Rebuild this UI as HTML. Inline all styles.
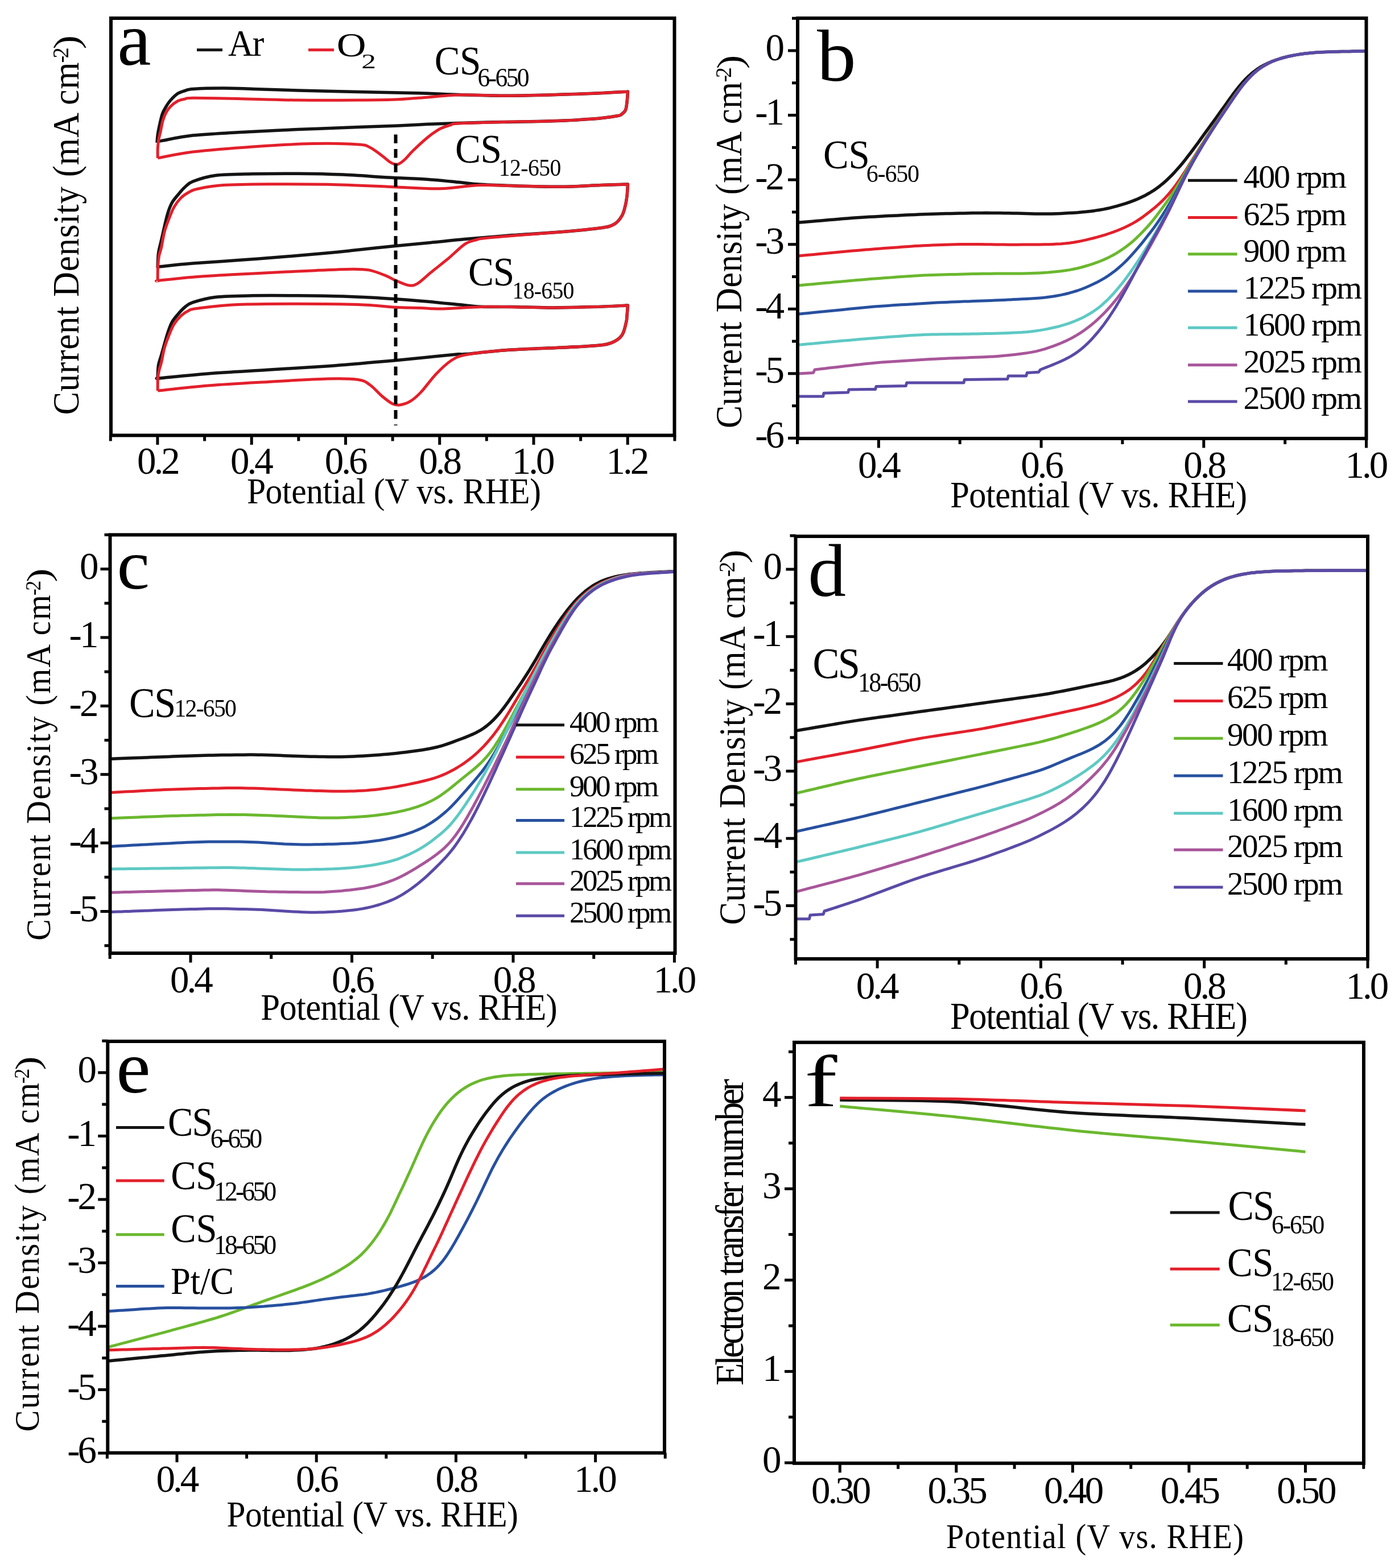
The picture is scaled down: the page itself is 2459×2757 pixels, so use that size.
<!DOCTYPE html>
<html><head><meta charset="utf-8"><title>ORR figure</title>
<style>html,body{margin:0;padding:0;background:#fff;}svg{display:block;}</style>
</head><body>
<svg xmlns="http://www.w3.org/2000/svg" width="2459" height="2757" viewBox="0 0 2459 2757" font-family="'Liberation Serif','Times New Roman',serif" fill="#000">
<path d="M276 251C276.2 248.3 276.6 240.7 277.5 235C278.4 229.3 279.8 222.8 281.1 217C282.4 211.2 283.8 204.8 285.5 200C287.2 195.2 289.2 192 291.6 188C294 184 296.5 179.9 300 176C303.5 172.1 308.5 167.1 312.7 164.3C316.9 161.6 320.6 160.8 325 159.5C329.4 158.2 328 157.2 339.1 156.4C350.2 155.7 374.3 155 391.9 155C409.5 155 422.6 155.7 444.6 156.4C466.6 157.1 492.9 158.1 523.7 159C554.5 159.9 599.8 160.9 629.2 161.6C658.6 162.3 679.4 162.6 700 163C720.6 163.4 735.1 163.7 752.7 164.3C770.3 164.9 783.5 165.9 805.5 166.6C827.5 167.2 858.2 168.1 884.6 168.2C911 168.2 937.3 167.6 963.7 166.9C990.1 166.2 1020.8 165.2 1042.8 164.3C1064.8 163.4 1085.5 162.2 1095.6 161.6C1105.7 161 1102.2 161.1 1103.5 161C1103.2 164.2 1102.7 174.6 1102 180C1101.3 185.4 1101 189.9 1099.5 193.3C1098 196.7 1095.4 198.8 1093 200.5C1090.6 202.2 1093.4 202.4 1085 203.8C1076.6 205.2 1063 207.6 1042.8 209.1C1022.6 210.6 990.1 212.1 963.7 213C937.3 213.9 911 213.8 884.6 214.4C858.2 215 827.5 215.8 805.5 216.5C783.5 217.2 770.3 217.6 752.7 218.3C735.1 219.1 720.6 220.1 700 221C679.4 221.9 658.6 222.5 629.2 223.6C599.8 224.7 558.9 226.1 523.7 227.6C488.5 229.1 449 231.1 418.2 232.8C387.4 234.6 361.3 235.7 339.1 238.1C316.9 240.5 295.5 245.5 285 247.4C274.5 249.3 277.5 249.2 276 249.5" fill="none" stroke="#141414" stroke-width="5.5" stroke-linejoin="round" stroke-linecap="butt"/>
<path d="M277.3 278C277.3 275.3 276.9 267.5 277.2 262C277.5 256.5 278.1 250.3 279 245C279.9 239.7 281.2 235.5 282.4 230.2C283.6 224.9 284.5 218.3 286 213C287.5 207.7 289.3 202.9 291.6 198.6C293.9 194.3 296.5 190.5 300 187C303.5 183.5 308.5 179.7 312.7 177.5C316.9 175.3 320.6 174.9 325 174C329.4 173.1 323.6 172.3 339.1 172.2C354.6 172.1 387.4 172.8 418.2 173.5C449 174.2 488.5 175.7 523.7 176.1C558.9 176.5 599.8 176.3 629.2 176.1C658.6 175.9 679.4 175.7 700 174.8C720.6 173.9 735.1 172.2 752.7 170.9C770.3 169.6 783.5 167.4 805.5 166.9C827.5 166.4 858.2 168.2 884.6 168.2C911 168.2 937.3 167.6 963.7 166.9C990.1 166.2 1020.8 165.2 1042.8 164.3C1064.8 163.4 1085.5 162.2 1095.6 161.6C1105.7 161 1102.2 161.1 1103.5 161C1103.2 164.2 1102.7 174.6 1102 180C1101.3 185.4 1101 189.9 1099.5 193.3C1098 196.7 1095.4 198.8 1093 200.5C1090.6 202.2 1093.4 202.4 1085 203.8C1076.6 205.2 1063 207.6 1042.8 209.1C1022.6 210.6 990.1 212.1 963.7 213C937.3 213.9 911 213.7 884.6 214.4C858.2 215.1 820.9 216.1 805.5 217C790.1 217.9 797.6 218.1 792.3 219.7C787 221.2 780.4 222.8 773.8 226.3C767.2 229.8 760.6 234.4 752.7 240.8C744.8 247.2 733.2 258 726.4 264.5C719.6 271 716.3 276 712 280C707.7 284 703.7 287.1 700.5 288.5C697.3 289.9 695.8 289.2 693 288.5C690.2 287.8 687.6 286.5 684 284C680.4 281.5 677 277.8 671.4 273.7C665.8 269.6 657.3 262.5 650.3 259.2C643.3 255.9 645.9 255 629.2 253.9C612.5 252.8 580.8 251.9 550 252.6C519.2 253.3 479.8 255.5 444.6 257.9C409.5 260.3 367 263.8 339.1 267.1C311.2 270.5 287.6 276.2 277.3 278" fill="none" stroke="#e3202b" stroke-width="5" stroke-linejoin="round" stroke-linecap="butt"/>
<path d="M277.1 471C277.3 466.7 277.4 453.2 278.5 445C279.6 436.8 281.1 433.2 283.7 421.9C286.3 410.6 291.2 387.8 294.3 377C297.4 366.2 298.9 362.7 302 357C305.1 351.3 308.9 347.4 312.7 342.7C316.5 338 320.6 332.9 325 329C329.4 325.1 330.2 322.4 339.1 319C348.1 315.6 361.1 310.7 378.7 308.5C396.3 306.3 420.4 306.3 444.6 305.8C468.8 305.3 497.3 305.1 523.7 305.3C550.1 305.5 576.4 306 602.8 307.1C629.2 308.2 657 310.6 682 312C707 313.4 732.1 314.1 752.7 315.5C773.3 316.9 790.1 318.8 805.5 320.3C820.9 321.8 827.4 323.2 845 324.3C862.6 325.4 886.8 326.2 911 326.9C935.2 327.5 965.8 328.4 990 328.2C1014.2 328 1037.1 326.3 1056 325.6C1074.9 324.9 1095.6 324.3 1103.5 324C1103.2 327.5 1102.8 338.7 1102 345C1101.2 351.3 1100.5 356.2 1099 362C1097.5 367.8 1096.2 374.3 1093 379.7C1089.8 385.1 1085.9 390.7 1079.7 394.2C1073.5 397.7 1071 398.6 1056 400.8C1041 403 1016 405.3 990 407.4C964 409.5 928.9 411.4 900 413.6C871.1 415.8 840.6 418.4 816.9 420.5C793.2 422.6 778 424.5 757.6 426.5C737.2 428.5 717.2 430.1 694.3 432.4C671.4 434.7 639.6 438.2 620 440.3C600.4 442.4 597 442.8 576.5 444.7C556 446.6 523.7 449.5 497.3 451.6C470.9 453.8 444.6 455.7 418.2 457.6C391.8 459.5 361.5 461.3 339.1 463.1C316.7 464.9 294 467.4 283.7 468.5C273.4 469.6 278.2 469.8 277.1 470" fill="none" stroke="#141414" stroke-width="5.5" stroke-linejoin="round" stroke-linecap="butt"/>
<path d="M277.2 494C277.2 490 277.1 477.3 277.5 470C277.9 462.7 278.5 455.8 279.5 450C280.5 444.2 282.1 442 283.7 435C285.3 428 286.8 416.3 289 408C291.2 399.7 294.1 392.3 296.9 385C299.7 377.7 302.5 370.2 306 364C309.5 357.8 313.7 352.3 318 348C322.3 343.7 327.2 340.6 332 338C336.8 335.4 337 334.3 347 332.2C357 330.1 371.2 327 391.9 325.6C412.6 324.2 440.2 324 471 323.8C501.8 323.6 541.3 323.6 576.5 324.3C611.7 325 654.8 327.1 682 328.2C709.2 329.3 723.8 330.3 740 330.9C756.2 331.4 761.5 332.4 779 331.5C796.5 330.6 823 326.4 845 325.6C867 324.8 886.8 326.5 911 326.9C935.2 327.3 965.8 328.4 990 328.2C1014.2 328 1037.1 326.3 1056 325.6C1074.9 324.9 1095.6 324.3 1103.5 324C1103.2 327.5 1102.8 338.7 1102 345C1101.2 351.3 1100.5 356.2 1099 362C1097.5 367.8 1096.2 374.3 1093 379.7C1089.8 385.1 1085.9 390.7 1079.7 394.2C1073.5 397.7 1071 398.6 1056 400.8C1041 403 1016 405.1 990 407.4C964 409.7 923.3 412.5 900 414.4C876.7 416.3 860.5 417.8 850 419C839.5 420.2 842.2 420.1 836.7 421.8C831.2 423.5 825.1 423.8 816.9 429.4C808.6 435 797.1 446.9 787.2 455.2C777.3 463.4 766.5 471.6 757.6 478.9C748.7 486.1 740.4 494.9 733.8 498.7C727.2 502.5 724.6 502.6 718 501.6C711.4 500.6 700.9 495.5 694.3 492.7C687.7 489.9 686 487.8 678.4 484.8C670.8 481.8 658.7 476.8 648.8 474.9C638.9 473 634.5 473.1 619.1 473.2C603.8 473.3 577 474.5 556.7 475.4C536.4 476.2 520.4 477.1 497.3 478.3C474.2 479.5 444.6 480.8 418.2 482.3C391.8 483.8 362.2 485.4 339.1 487.2C316 489 290.1 492.1 279.8 493.2C269.5 494.3 277.6 493.9 277.2 494" fill="none" stroke="#e3202b" stroke-width="5" stroke-linejoin="round" stroke-linecap="butt"/>
<path d="M277.1 665C277.3 661.2 277.4 648.8 278.5 642C279.6 635.2 281.1 633.2 283.7 624C286.3 614.8 291.2 596.5 294.3 587C297.4 577.5 298.9 572.7 302 567C305.1 561.3 308.9 557.2 312.7 552.7C316.5 548.2 320.6 543.5 325 540C329.4 536.5 330.2 534.5 339.1 531.6C348.1 528.7 361.1 524.4 378.7 522.4C396.3 520.4 420.4 520.2 444.6 519.8C468.8 519.4 497.3 519.6 523.7 519.8C550.1 520 576.4 520.2 602.8 521.1C629.2 522 657 523.5 682 525C707 526.5 732.1 528.5 752.7 530.3C773.3 532.1 790.1 534.1 805.5 535.6C820.9 537.1 829.2 538.6 845 539.3C860.8 539.9 880.2 539.2 900 539.5C919.8 539.8 939.9 540.9 963.7 540.9C987.5 540.9 1019.5 540.2 1042.8 539.6C1066.1 539 1093.4 537.4 1103.5 537C1103.2 540 1102.5 550.2 1102 555C1101.5 559.8 1102.3 560.1 1100.8 565.9C1099.3 571.7 1097.4 583.6 1093 589.7C1088.6 595.9 1082.9 599.7 1074.5 602.8C1066.1 605.9 1061.3 606.5 1042.8 608.1C1024.3 609.7 990.1 610.8 963.7 612.1C937.3 613.4 908.8 614.2 884.6 616C860.4 617.8 831.9 621.5 818.7 622.6C805.5 623.7 816.5 621.9 805.5 622.8C794.5 623.7 770.3 626.2 752.7 627.9C735.1 629.6 716.2 631.7 700 633.2C683.8 634.7 676.2 635.4 655.6 637.1C635 638.9 607.3 641.5 576.5 643.7C545.7 645.9 506.2 648.1 471 650.3C435.8 652.5 396.7 654.5 365.5 656.9C334.3 659.3 298.4 663.4 283.7 664.8C269 666.1 278.2 665 277.1 665" fill="none" stroke="#141414" stroke-width="5.5" stroke-linejoin="round" stroke-linecap="butt"/>
<path d="M277.2 687C277.2 683.3 277.1 670.8 277.5 665C277.9 659.2 278.5 656.6 279.5 652C280.5 647.4 282.1 643.8 283.7 637.1C285.3 630.4 286.8 619.9 289 612C291.2 604.1 294.1 596.7 296.9 589.7C299.7 582.7 302.5 575.7 306 570C309.5 564.3 313.7 559.4 318 555.4C322.3 551.4 327.2 548.2 332 546C336.8 543.8 332.6 543.9 347 542.2C361.4 540.5 388.8 536.9 418.2 535.6C447.6 534.3 488.5 534.3 523.7 534.3C558.9 534.3 599.8 534.6 629.2 535.6C658.6 536.6 681.5 539.5 700 540.5C718.5 541.5 726.8 541.1 740 541.5C753.2 541.9 759.3 543.4 779 543C798.7 542.6 827.4 539.6 858.2 539.3C889 538.9 932.9 540.8 963.7 540.9C994.5 541 1019.5 540.2 1042.8 539.6C1066.1 539 1093.4 537.4 1103.5 537C1103.2 540 1102.5 550.2 1102 555C1101.5 559.8 1102.3 560.1 1100.8 565.9C1099.3 571.7 1097.4 583.6 1093 589.7C1088.6 595.9 1082.9 599.7 1074.5 602.8C1066.1 605.9 1061.3 606.5 1042.8 608.1C1024.3 609.7 990.1 610.8 963.7 612.1C937.3 613.4 908.8 614 884.6 616C860.4 618 834.1 620.8 818.7 623.9C803.3 627 801.1 628.8 792.3 634.5C783.5 640.2 774.8 649 766 658.2C757.2 667.4 747.1 682 739.6 689.9C732.1 697.8 727.1 702 721 705.7C714.9 709.4 708.2 711.3 703 712C697.8 712.7 695.3 712.6 690 710C684.7 707.4 678 702 671.4 696.5C664.8 691 657.3 681.5 650.3 676.7C643.3 671.9 641.5 669.3 629.2 667.5C616.9 665.7 602.9 665.5 576.5 666.1C550.1 666.8 506.2 669.4 471 671.4C435.8 673.4 397.8 675.4 365.5 678C333.2 680.6 291.9 685.5 277.2 687" fill="none" stroke="#e3202b" stroke-width="5" stroke-linejoin="round" stroke-linecap="butt"/>
<line x1="695.5" y1="236.5" x2="695.5" y2="748" stroke="#000" stroke-width="6" stroke-dasharray="15.5 10"/>
<rect x="195" y="32" width="990.5" height="733.5" fill="none" stroke="#000" stroke-width="6"/>
<line x1="194.3" y1="765.5" x2="194.3" y2="775.5" stroke="#000" stroke-width="5" stroke-linecap="butt"/>
<line x1="276.9" y1="765.5" x2="276.9" y2="782" stroke="#000" stroke-width="5" stroke-linecap="butt"/>
<line x1="359.6" y1="765.5" x2="359.6" y2="775.5" stroke="#000" stroke-width="5" stroke-linecap="butt"/>
<line x1="442.2" y1="765.5" x2="442.2" y2="782" stroke="#000" stroke-width="5" stroke-linecap="butt"/>
<line x1="524.8" y1="765.5" x2="524.8" y2="775.5" stroke="#000" stroke-width="5" stroke-linecap="butt"/>
<line x1="607.5" y1="765.5" x2="607.5" y2="782" stroke="#000" stroke-width="5" stroke-linecap="butt"/>
<line x1="690.1" y1="765.5" x2="690.1" y2="775.5" stroke="#000" stroke-width="5" stroke-linecap="butt"/>
<line x1="772.7" y1="765.5" x2="772.7" y2="782" stroke="#000" stroke-width="5" stroke-linecap="butt"/>
<line x1="855.3" y1="765.5" x2="855.3" y2="775.5" stroke="#000" stroke-width="5" stroke-linecap="butt"/>
<line x1="938" y1="765.5" x2="938" y2="782" stroke="#000" stroke-width="5" stroke-linecap="butt"/>
<line x1="1020.6" y1="765.5" x2="1020.6" y2="775.5" stroke="#000" stroke-width="5" stroke-linecap="butt"/>
<line x1="1103.2" y1="765.5" x2="1103.2" y2="782" stroke="#000" stroke-width="5" stroke-linecap="butt"/>
<line x1="1185.9" y1="765.5" x2="1185.9" y2="775.5" stroke="#000" stroke-width="5" stroke-linecap="butt"/>
<text x="241" y="833.3" font-size="67" letter-spacing="-4.00">0.2</text>
<text x="405" y="833.3" font-size="67" letter-spacing="-4.00">0.4</text>
<text x="570.7" y="833.3" font-size="67" letter-spacing="-4.00">0.6</text>
<text x="736.2" y="833.3" font-size="67" letter-spacing="-4.00">0.8</text>
<text x="899.8" y="833.3" font-size="67" letter-spacing="-4.00">1.0</text>
<text x="1065.6" y="833.3" font-size="67" letter-spacing="-4.00">1.2</text>
<line x1="346" y1="87.8" x2="391" y2="87.8" stroke="#141414" stroke-width="5" stroke-linecap="butt"/>
<text transform="translate(400.9 97.9) scale(0.930 1)" font-size="66.5" letter-spacing="-1.81">Ar</text>
<line x1="542" y1="87.8" x2="587" y2="87.8" stroke="#e3202b" stroke-width="5" stroke-linecap="butt"/>
<text transform="translate(591.8 99.2) scale(1.226 1)" font-size="58.5" letter-spacing="0.00">O</text>
<text transform="translate(635.3 120.3) scale(1.400 1)" font-size="36.7" letter-spacing="0.00">2</text>
<text transform="translate(763.8 130.9) scale(0.930 1)" font-size="72.3" letter-spacing="-0.68">CS</text>
<text transform="translate(839.4 151.5) scale(0.930 1)" font-size="47" letter-spacing="-2.86">6-650</text>
<text transform="translate(799.9 286.1) scale(0.930 1)" font-size="72.5" letter-spacing="-0.52">CS</text>
<text transform="translate(876.7 309.4) scale(0.930 1)" font-size="42.7" letter-spacing="-0.58">12-650</text>
<text transform="translate(823 502) scale(0.930 1)" font-size="72.5" letter-spacing="-1.38">CS</text>
<text transform="translate(900.5 525.4) scale(0.930 1)" font-size="42.8" letter-spacing="-0.81">18-650</text>
<text transform="translate(206.3 114.1) scale(1.006 1)" font-size="132.6" letter-spacing="0.00">a</text>
<text transform="translate(433.9 885.4) scale(0.930 1)" font-size="63.9" letter-spacing="-0.35">Potential (V vs. RHE)</text>
<text transform="translate(138.4 86.4) rotate(-90) scale(1.156 1)" font-size="63.9" letter-spacing="0.00">)</text>
<text transform="translate(119.7 110.4) rotate(-90) scale(0.930 1)" font-size="41.1" letter-spacing="-5.28">-2</text>
<text transform="translate(137.9 729.5) rotate(-90) scale(0.930 1)" font-size="65.4" letter-spacing="0.87">Current Density (mA cm</text>
<path d="M1403.0 391.3 L1415.5 390.2 L1421.2 389.8 L1427.9 389.2 L1435.2 388.6 L1442.8 387.9 L1450.6 387.3 L1458.5 386.6 L1466.4 385.9 L1474.3 385.2 L1482.3 384.6 L1490.2 383.9 L1498.1 383.3 L1506.0 382.8 L1513.9 382.2 L1521.7 381.7 L1529.6 381.3 L1537.4 380.9 L1545.3 380.4 L1553.1 380.0 L1561.0 379.6 L1568.8 379.3 L1576.7 378.9 L1584.5 378.5 L1592.4 378.1 L1600.2 377.7 L1608.0 377.4 L1615.9 377.0 L1623.7 376.8 L1631.6 376.5 L1639.4 376.3 L1647.3 376.0 L1655.1 375.8 L1663.0 375.6 L1670.8 375.4 L1678.7 375.3 L1686.5 375.1 L1694.4 374.9 L1702.2 374.7 L1710.1 374.6 L1717.9 374.4 L1725.8 374.4 L1733.6 374.3 L1741.5 374.4 L1749.3 374.4 L1757.1 374.5 L1765.0 374.7 L1772.8 374.8 L1780.6 374.9 L1788.4 375.1 L1796.2 375.3 L1803.9 375.5 L1811.5 375.7 L1819.1 375.9 L1826.6 376.1 L1834.0 376.1 L1841.4 376.1 L1848.9 375.9 L1856.3 375.7 L1863.7 375.4 L1871.1 375.0 L1878.6 374.6 L1886.1 374.2 L1893.6 373.7 L1901.2 373.0 L1908.9 372.3 L1916.7 371.4 L1924.4 370.4 L1932.2 369.2 L1940.0 367.9 L1947.7 366.3 L1955.4 364.4 L1963.1 362.4 L1970.7 360.2 L1978.2 357.9 L1985.6 355.3 L1992.9 352.6 L2000.0 349.7 L2006.9 346.5 L2013.7 343.2 L2020.2 339.5 L2026.5 335.7 L2032.5 331.6 L2038.4 327.2 L2044.0 322.7 L2049.4 317.9 L2054.6 313.0 L2059.7 308.0 L2064.6 302.8 L2069.3 297.5 L2074.0 292.2 L2078.6 286.7 L2083.1 281.1 L2087.6 275.3 L2092.1 269.5 L2096.6 263.5 L2101.1 257.4 L2105.6 251.3 L2110.0 245.1 L2114.5 238.9 L2119.0 232.6 L2123.6 226.3 L2128.1 220.1 L2132.7 213.8 L2137.3 207.5 L2141.9 201.1 L2146.5 194.7 L2151.1 188.4 L2155.6 182.0 L2160.1 175.6 L2164.7 169.4 L2169.2 163.2 L2173.8 157.2 L2178.4 151.4 L2183.2 145.7 L2188.2 140.3 L2193.4 135.1 L2198.8 130.2 L2204.4 125.6 L2210.3 121.3 L2216.4 117.4 L2222.8 113.9 L2229.3 110.7 L2236.1 107.8 L2243.0 105.3 L2250.1 103.0 L2257.2 101.0 L2264.3 99.2 L2271.4 97.7 L2278.6 96.4 L2285.7 95.3 L2292.9 94.3 L2300.0 93.5 L2307.1 92.8 L2314.3 92.3 L2321.5 91.8 L2328.6 91.5 L2335.9 91.2 L2343.2 91.0 L2350.5 90.8 L2357.9 90.6 L2365.3 90.5 L2372.5 90.4 L2379.2 90.3 L2385.3 90.2 L2390.3 90.1 L2400.0 90.0" fill="none" stroke="#141414" stroke-width="5.5" stroke-linejoin="round"/>
<path d="M1403.0 450.0 L1415.5 448.8 L1421.2 448.3 L1427.9 447.7 L1435.2 447.0 L1442.8 446.2 L1450.6 445.5 L1458.5 444.8 L1466.4 444.0 L1474.3 443.3 L1482.3 442.5 L1490.2 441.8 L1498.1 441.1 L1506.0 440.4 L1513.9 439.7 L1521.7 439.1 L1529.6 438.4 L1537.4 437.8 L1545.3 437.2 L1553.1 436.6 L1561.0 436.0 L1568.8 435.5 L1576.7 434.9 L1584.5 434.3 L1592.4 433.7 L1600.2 433.2 L1608.0 432.6 L1615.9 432.2 L1623.7 431.7 L1631.6 431.4 L1639.4 431.0 L1647.3 430.7 L1655.1 430.5 L1663.0 430.2 L1670.8 430.0 L1678.7 429.7 L1686.5 429.6 L1694.3 429.4 L1702.2 429.4 L1710.0 429.4 L1717.9 429.4 L1725.7 429.6 L1733.5 429.7 L1741.4 429.8 L1749.2 430.0 L1757.0 430.1 L1764.9 430.1 L1772.7 430.2 L1780.6 430.2 L1788.5 430.2 L1796.3 430.1 L1804.2 430.1 L1812.0 430.1 L1819.8 430.0 L1827.6 429.9 L1835.3 429.8 L1842.9 429.7 L1850.4 429.4 L1857.8 429.1 L1865.1 428.7 L1872.4 428.1 L1879.6 427.3 L1886.7 426.2 L1893.8 425.0 L1900.8 423.6 L1907.8 422.1 L1914.8 420.4 L1921.8 418.7 L1928.7 416.9 L1935.7 414.9 L1942.7 412.8 L1949.6 410.5 L1956.6 408.1 L1963.5 405.5 L1970.3 402.7 L1977.1 399.7 L1983.8 396.5 L1990.3 393.1 L1996.8 389.4 L2003.0 385.3 L2009.2 381.1 L2015.2 376.6 L2021.1 372.0 L2027.0 367.3 L2032.7 362.5 L2038.2 357.6 L2043.5 352.6 L2048.5 347.4 L2053.4 342.0 L2058.0 336.4 L2062.6 330.7 L2067.0 324.9 L2071.2 318.9 L2075.4 312.9 L2079.3 307.0 L2083.2 301.0 L2087.0 295.0 L2090.8 288.9 L2094.7 282.6 L2098.6 276.3 L2102.7 269.8 L2106.7 263.3 L2110.9 256.7 L2115.1 250.1 L2119.2 243.6 L2123.4 237.2 L2127.5 230.9 L2131.5 224.8 L2135.5 218.9 L2139.5 213.0 L2143.4 207.2 L2147.3 201.4 L2151.2 195.7 L2155.1 190.0 L2159.0 184.3 L2162.9 178.6 L2166.8 172.9 L2170.8 167.2 L2174.9 161.5 L2179.2 155.8 L2183.7 150.2 L2188.4 144.6 L2193.3 139.2 L2198.6 133.9 L2204.1 128.7 L2210.0 123.8 L2216.1 119.3 L2222.5 115.2 L2229.2 111.5 L2236.0 108.3 L2243.0 105.5 L2250.0 103.1 L2257.2 101.0 L2264.3 99.3 L2271.4 97.7 L2278.6 96.4 L2285.7 95.3 L2292.9 94.3 L2300.0 93.5 L2307.1 92.8 L2314.3 92.3 L2321.5 91.8 L2328.6 91.5 L2335.9 91.2 L2343.2 91.0 L2350.5 90.8 L2357.9 90.6 L2365.3 90.5 L2372.5 90.4 L2379.2 90.3 L2385.3 90.2 L2390.3 90.1 L2400.0 90.0" fill="none" stroke="#e3202b" stroke-width="5" stroke-linejoin="round"/>
<path d="M1403.0 502.0 L1415.5 500.8 L1421.2 500.3 L1427.9 499.7 L1435.2 499.0 L1442.8 498.3 L1450.6 497.6 L1458.5 496.9 L1466.4 496.1 L1474.3 495.4 L1482.3 494.7 L1490.2 494.0 L1498.1 493.3 L1506.0 492.6 L1513.9 491.9 L1521.7 491.3 L1529.6 490.6 L1537.4 490.0 L1545.3 489.4 L1553.1 488.8 L1561.0 488.2 L1568.8 487.7 L1576.7 487.1 L1584.5 486.5 L1592.4 485.9 L1600.2 485.4 L1608.0 484.9 L1615.9 484.4 L1623.7 484.0 L1631.6 483.7 L1639.4 483.4 L1647.3 483.2 L1655.1 482.9 L1663.0 482.7 L1670.8 482.5 L1678.7 482.4 L1686.5 482.2 L1694.4 482.0 L1702.2 481.8 L1710.1 481.6 L1717.9 481.5 L1725.8 481.3 L1733.6 481.2 L1741.5 481.2 L1749.3 481.1 L1757.1 481.1 L1765.0 481.1 L1772.8 481.1 L1780.6 481.1 L1788.5 481.0 L1796.3 480.9 L1804.0 480.8 L1811.8 480.6 L1819.5 480.3 L1827.1 479.9 L1834.7 479.4 L1842.3 478.9 L1849.9 478.2 L1857.4 477.5 L1864.8 476.7 L1872.2 475.7 L1879.5 474.6 L1886.6 473.2 L1893.8 471.7 L1900.8 470.0 L1907.8 468.0 L1914.8 465.9 L1921.7 463.7 L1928.7 461.2 L1935.5 458.5 L1942.4 455.6 L1949.1 452.4 L1955.7 449.0 L1962.1 445.3 L1968.4 441.4 L1974.5 437.3 L1980.4 433.0 L1986.1 428.5 L1991.7 423.8 L1997.1 418.9 L2002.4 413.8 L2007.6 408.5 L2012.8 403.1 L2017.9 397.5 L2022.8 391.8 L2027.6 386.0 L2032.3 380.0 L2036.8 374.0 L2041.3 368.0 L2045.8 361.9 L2050.3 355.7 L2054.7 349.4 L2059.1 343.0 L2063.5 336.5 L2067.6 329.9 L2071.7 323.3 L2075.7 316.7 L2079.6 310.0 L2083.5 303.3 L2087.4 296.7 L2091.3 290.0 L2095.3 283.3 L2099.3 276.7 L2103.3 270.0 L2107.4 263.4 L2111.5 256.7 L2115.7 250.1 L2119.8 243.6 L2123.9 237.2 L2128.0 230.9 L2132.0 224.8 L2136.0 218.9 L2139.9 213.0 L2143.8 207.2 L2147.7 201.4 L2151.6 195.7 L2155.4 190.0 L2159.3 184.3 L2163.2 178.6 L2167.1 172.9 L2171.1 167.2 L2175.2 161.5 L2179.5 155.8 L2183.9 150.2 L2188.5 144.6 L2193.5 139.2 L2198.7 133.9 L2204.2 128.7 L2210.0 123.8 L2216.1 119.3 L2222.5 115.2 L2229.2 111.5 L2236.0 108.3 L2243.0 105.5 L2250.0 103.1 L2257.2 101.0 L2264.3 99.3 L2271.4 97.7 L2278.6 96.4 L2285.7 95.3 L2292.9 94.3 L2300.0 93.5 L2307.1 92.8 L2314.3 92.3 L2321.5 91.8 L2328.6 91.5 L2335.9 91.2 L2343.2 91.0 L2350.5 90.8 L2357.9 90.6 L2365.3 90.5 L2372.5 90.4 L2379.2 90.3 L2385.3 90.2 L2390.3 90.1 L2400.0 90.0" fill="none" stroke="#6ab82e" stroke-width="5" stroke-linejoin="round"/>
<path d="M1403.0 552.3 L1415.4 551.1 L1421.2 550.5 L1427.8 549.8 L1435.1 549.1 L1442.7 548.3 L1450.5 547.5 L1458.4 546.7 L1466.3 545.9 L1474.2 545.2 L1482.1 544.4 L1490.0 543.6 L1497.9 542.8 L1505.8 542.0 L1513.7 541.2 L1521.6 540.5 L1529.5 539.8 L1537.3 539.1 L1545.2 538.5 L1553.1 537.9 L1560.9 537.4 L1568.8 536.8 L1576.6 536.3 L1584.5 535.8 L1592.3 535.4 L1600.2 534.9 L1608.0 534.4 L1615.9 533.9 L1623.7 533.4 L1631.6 532.9 L1639.4 532.5 L1647.3 532.1 L1655.1 531.7 L1663.0 531.4 L1670.8 531.0 L1678.6 530.7 L1686.5 530.4 L1694.3 530.1 L1702.2 529.9 L1710.0 529.6 L1717.8 529.3 L1725.7 529.0 L1733.5 528.7 L1741.3 528.4 L1749.2 528.0 L1757.0 527.7 L1764.9 527.4 L1772.7 527.0 L1780.6 526.6 L1788.5 526.2 L1796.3 525.8 L1804.2 525.4 L1812.0 525.0 L1819.8 524.5 L1827.6 523.9 L1835.3 523.2 L1842.9 522.3 L1850.4 521.3 L1857.8 520.0 L1865.1 518.6 L1872.4 517.0 L1879.6 515.2 L1886.7 513.2 L1893.8 511.0 L1900.8 508.5 L1907.8 505.7 L1914.7 502.8 L1921.6 499.6 L1928.4 496.2 L1935.1 492.6 L1941.6 488.8 L1947.9 484.8 L1953.9 480.6 L1959.8 476.2 L1965.5 471.5 L1971.0 466.7 L1976.3 461.7 L1981.5 456.6 L1986.5 451.3 L1991.4 445.9 L1996.2 440.4 L2000.9 434.9 L2005.6 429.3 L2010.2 423.6 L2014.8 417.8 L2019.4 411.9 L2024.0 405.9 L2028.5 399.9 L2033.0 393.7 L2037.3 387.4 L2041.5 381.0 L2045.6 374.6 L2049.6 368.2 L2053.4 361.8 L2057.2 355.5 L2060.9 349.2 L2064.5 342.8 L2068.0 336.4 L2071.5 329.9 L2075.0 323.3 L2078.5 316.6 L2082.0 310.0 L2085.6 303.3 L2089.3 296.7 L2093.0 290.0 L2096.8 283.3 L2100.7 276.7 L2104.6 270.0 L2108.6 263.4 L2112.6 256.7 L2116.7 250.1 L2120.7 243.6 L2124.8 237.2 L2128.8 230.9 L2132.8 224.8 L2136.7 218.9 L2140.6 213.0 L2144.5 207.2 L2148.3 201.4 L2152.2 195.7 L2156.0 190.0 L2159.9 184.3 L2163.8 178.6 L2167.7 172.9 L2171.6 167.2 L2175.7 161.5 L2179.9 155.8 L2184.2 150.2 L2188.8 144.6 L2193.7 139.2 L2198.8 133.9 L2204.3 128.7 L2210.1 123.8 L2216.2 119.3 L2222.6 115.2 L2229.2 111.5 L2236.0 108.3 L2243.0 105.5 L2250.0 103.1 L2257.2 101.0 L2264.3 99.3 L2271.4 97.7 L2278.6 96.4 L2285.7 95.3 L2292.9 94.3 L2300.0 93.5 L2307.1 92.8 L2314.3 92.3 L2321.5 91.8 L2328.6 91.5 L2335.9 91.2 L2343.2 91.0 L2350.5 90.8 L2357.9 90.6 L2365.3 90.5 L2372.5 90.4 L2379.2 90.3 L2385.3 90.2 L2390.3 90.1 L2400.0 90.0" fill="none" stroke="#27509f" stroke-width="5" stroke-linejoin="round"/>
<path d="M1403.0 606.5 L1415.5 605.3 L1421.2 604.8 L1427.9 604.2 L1435.2 603.5 L1442.8 602.8 L1450.6 602.1 L1458.5 601.3 L1466.4 600.6 L1474.3 599.8 L1482.3 599.1 L1490.2 598.4 L1498.1 597.7 L1506.0 597.0 L1513.9 596.3 L1521.7 595.7 L1529.6 595.0 L1537.4 594.4 L1545.3 593.8 L1553.1 593.2 L1561.0 592.6 L1568.8 592.1 L1576.7 591.5 L1584.5 590.9 L1592.4 590.3 L1600.2 589.8 L1608.0 589.3 L1615.9 588.9 L1623.7 588.5 L1631.6 588.3 L1639.4 588.1 L1647.3 587.9 L1655.1 587.8 L1663.0 587.7 L1670.8 587.6 L1678.7 587.5 L1686.5 587.4 L1694.4 587.3 L1702.2 587.2 L1710.1 587.1 L1717.9 587.0 L1725.8 586.8 L1733.6 586.6 L1741.5 586.4 L1749.3 586.2 L1757.1 585.9 L1765.0 585.7 L1772.8 585.4 L1780.6 585.1 L1788.5 584.7 L1796.3 584.3 L1804.0 583.7 L1811.8 582.9 L1819.5 582.0 L1827.1 580.9 L1834.7 579.6 L1842.3 578.1 L1849.9 576.5 L1857.4 574.8 L1864.8 572.8 L1872.2 570.7 L1879.4 568.3 L1886.5 565.7 L1893.5 562.8 L1900.3 559.7 L1907.0 556.4 L1913.4 552.8 L1919.6 549.0 L1925.6 545.0 L1931.4 540.7 L1937.0 536.1 L1942.4 531.2 L1947.7 526.2 L1952.7 521.0 L1957.6 515.7 L1962.2 510.4 L1966.7 505.0 L1971.1 499.7 L1975.4 494.2 L1979.5 488.8 L1983.6 483.2 L1987.7 477.5 L1991.6 471.8 L1995.6 466.0 L1999.5 460.1 L2003.4 454.1 L2007.4 448.1 L2011.3 441.9 L2015.2 435.7 L2019.1 429.3 L2023.0 422.8 L2026.9 416.2 L2030.8 409.6 L2034.6 403.0 L2038.4 396.5 L2042.1 390.1 L2045.7 383.7 L2049.2 377.4 L2052.6 371.2 L2055.9 365.0 L2059.1 358.8 L2062.3 352.5 L2065.5 346.2 L2068.7 339.7 L2071.9 333.2 L2075.1 326.6 L2078.3 320.0 L2081.6 313.3 L2085.0 306.7 L2088.5 300.0 L2092.1 293.3 L2095.7 286.7 L2099.5 280.0 L2103.3 273.3 L2107.2 266.7 L2111.1 260.0 L2115.1 253.4 L2119.2 246.9 L2123.2 240.4 L2127.2 234.1 L2131.2 227.9 L2135.2 221.8 L2139.1 215.9 L2142.9 210.1 L2146.8 204.3 L2150.6 198.6 L2154.4 192.9 L2158.2 187.1 L2162.1 181.4 L2166.0 175.7 L2169.9 170.0 L2173.9 164.3 L2178.0 158.6 L2182.2 153.0 L2186.7 147.4 L2191.4 141.9 L2196.3 136.5 L2201.6 131.3 L2207.2 126.2 L2213.1 121.5 L2219.3 117.2 L2225.8 113.3 L2232.6 109.8 L2239.5 106.8 L2246.5 104.2 L2253.6 102.0 L2260.7 100.1 L2267.9 98.5 L2275.0 97.0 L2282.1 95.8 L2289.3 94.8 L2296.4 93.9 L2303.6 93.1 L2310.7 92.5 L2317.9 92.0 L2325.0 91.6 L2332.2 91.3 L2339.5 91.1 L2346.8 90.9 L2354.2 90.7 L2361.6 90.6 L2368.9 90.5 L2375.9 90.3 L2382.3 90.2 L2387.9 90.2 L2400.0 90.0" fill="none" stroke="#5ec9c4" stroke-width="5" stroke-linejoin="round"/>
<path d="M1403.0 657.0 L1429.5 655.5 L1432.0 650.0 L1444.3 648.6 L1449.9 647.9 L1456.5 647.1 L1463.7 646.3 L1471.2 645.4 L1478.9 644.5 L1486.7 643.6 L1494.5 642.7 L1502.3 641.8 L1510.1 640.9 L1517.9 640.1 L1525.7 639.2 L1533.5 638.5 L1541.4 637.8 L1549.2 637.1 L1557.0 636.6 L1564.9 636.0 L1572.7 635.5 L1580.6 635.0 L1588.4 634.5 L1596.3 634.0 L1604.1 633.5 L1612.0 633.0 L1619.8 632.5 L1627.7 632.1 L1635.5 631.6 L1643.4 631.2 L1651.2 630.8 L1659.0 630.4 L1666.9 630.1 L1674.7 629.8 L1682.6 629.5 L1690.4 629.2 L1698.2 628.9 L1706.1 628.6 L1713.9 628.3 L1721.7 628.0 L1729.6 627.7 L1737.4 627.3 L1745.2 626.9 L1752.9 626.4 L1760.7 625.8 L1768.4 625.1 L1776.1 624.3 L1783.7 623.4 L1791.4 622.5 L1799.0 621.5 L1806.6 620.4 L1814.2 619.1 L1821.7 617.6 L1829.2 615.7 L1836.6 613.6 L1843.9 611.2 L1851.2 608.6 L1858.4 605.9 L1865.5 603.0 L1872.5 599.9 L1879.5 596.6 L1886.3 593.0 L1892.9 589.2 L1899.4 585.1 L1905.7 580.8 L1911.8 576.3 L1917.7 571.7 L1923.5 566.9 L1929.1 561.9 L1934.5 556.8 L1939.8 551.6 L1944.9 546.2 L1949.9 540.7 L1954.8 535.1 L1959.6 529.3 L1964.3 523.5 L1968.9 517.5 L1973.3 511.4 L1977.7 505.2 L1982.0 498.9 L1986.2 492.5 L1990.3 486.0 L1994.3 479.4 L1998.3 472.8 L2002.2 466.2 L2006.1 459.6 L2010.0 453.0 L2013.8 446.5 L2017.5 439.9 L2021.2 433.5 L2024.8 427.1 L2028.3 420.6 L2031.9 414.2 L2035.4 407.7 L2038.9 401.2 L2042.4 394.7 L2045.8 388.1 L2049.2 381.6 L2052.5 375.1 L2055.7 368.6 L2058.8 362.2 L2061.8 355.9 L2064.8 349.5 L2067.8 343.0 L2070.8 336.5 L2073.8 329.9 L2077.0 323.3 L2080.2 316.7 L2083.5 310.0 L2086.9 303.3 L2090.4 296.7 L2094.0 290.0 L2097.7 283.3 L2101.5 276.7 L2105.3 270.0 L2109.2 263.4 L2113.2 256.7 L2117.2 250.1 L2121.3 243.6 L2125.3 237.2 L2129.3 230.9 L2133.3 224.8 L2137.2 218.9 L2141.0 213.0 L2144.9 207.2 L2148.7 201.4 L2152.5 195.7 L2156.4 190.0 L2160.2 184.3 L2164.1 178.6 L2168.0 172.9 L2171.9 167.2 L2176.0 161.5 L2180.1 155.8 L2184.5 150.2 L2189.0 144.6 L2193.8 139.2 L2198.9 133.9 L2204.3 128.7 L2210.1 123.8 L2216.2 119.3 L2222.6 115.2 L2229.2 111.5 L2236.0 108.3 L2243.0 105.5 L2250.0 103.1 L2257.2 101.0 L2264.3 99.3 L2271.4 97.7 L2278.6 96.4 L2285.7 95.3 L2292.9 94.3 L2300.0 93.5 L2307.1 92.8 L2314.3 92.3 L2321.5 91.8 L2328.6 91.5 L2335.9 91.2 L2343.2 91.0 L2350.5 90.8 L2357.9 90.6 L2365.3 90.5 L2372.5 90.4 L2379.2 90.3 L2385.3 90.2 L2390.3 90.1 L2400.0 90.0" fill="none" stroke="#a8569a" stroke-width="5" stroke-linejoin="round"/>
<path d="M1403.0 697.0 L1446.7 697.0 L1448.0 691.3 L1490.7 690.0 L1492.0 685.0 L1538.7 684.4 L1540.0 679.5 L1592.3 678.4 L1593.7 672.9 L1694.0 672.9 L1695.3 667.4 L1770.9 666.5 L1772.3 661.0 L1803.8 661.0 L1805.2 655.5 L1825.8 654.2 L1828.6 650.0 L1839.6 645.7 L1844.6 643.7 L1850.4 641.4 L1856.7 638.8 L1863.1 636.0 L1869.6 633.0 L1876.0 629.8 L1882.3 626.4 L1888.3 622.6 L1894.2 618.6 L1900.0 614.2 L1905.5 609.5 L1911.0 604.4 L1916.2 599.2 L1921.3 593.7 L1926.3 588.0 L1931.1 582.3 L1935.8 576.4 L1940.4 570.4 L1944.8 564.2 L1949.2 558.0 L1953.4 551.6 L1957.6 545.2 L1961.6 538.8 L1965.5 532.3 L1969.3 525.9 L1973.0 519.5 L1976.6 513.1 L1980.1 506.7 L1983.6 500.2 L1987.1 493.7 L1990.6 487.2 L1994.1 480.6 L1997.6 474.0 L2001.1 467.4 L2004.5 460.9 L2008.0 454.3 L2011.5 447.8 L2015.0 441.4 L2018.5 435.0 L2022.1 428.5 L2025.7 422.0 L2029.3 415.5 L2033.0 408.9 L2036.7 402.2 L2040.5 395.5 L2044.1 388.7 L2047.8 382.0 L2051.3 375.3 L2054.8 368.5 L2058.2 361.8 L2061.6 355.1 L2064.9 348.4 L2068.2 341.6 L2071.4 334.8 L2074.7 328.0 L2077.9 321.2 L2081.3 314.4 L2084.6 307.7 L2088.1 301.0 L2091.6 294.3 L2095.2 287.7 L2098.9 281.0 L2102.7 274.4 L2106.5 267.9 L2110.4 261.4 L2114.2 254.9 L2118.1 248.5 L2122.1 242.3 L2126.0 236.1 L2129.9 230.0 L2133.8 224.0 L2137.7 218.0 L2141.6 212.1 L2145.6 206.2 L2149.5 200.3 L2153.4 194.4 L2157.4 188.5 L2161.3 182.7 L2165.3 176.8 L2169.3 170.9 L2173.3 165.0 L2177.5 159.1 L2181.8 153.3 L2186.1 147.7 L2190.7 142.2 L2195.4 136.9 L2200.3 131.9 L2205.5 127.1 L2211.0 122.6 L2216.8 118.5 L2223.0 114.6 L2229.4 111.2 L2236.1 108.1 L2243.0 105.4 L2250.1 103.0 L2257.2 101.0 L2264.3 99.3 L2271.4 97.7 L2278.6 96.4 L2285.7 95.3 L2292.9 94.3 L2300.0 93.5 L2307.1 92.8 L2314.3 92.3 L2321.5 91.8 L2328.6 91.5 L2335.9 91.2 L2343.2 91.0 L2350.5 90.8 L2357.9 90.6 L2365.3 90.5 L2372.5 90.4 L2379.2 90.3 L2385.3 90.2 L2390.3 90.1 L2400.0 90.0" fill="none" stroke="#5a4aa6" stroke-width="5" stroke-linejoin="round"/>
<rect x="1402" y="32" width="999.5" height="739" fill="none" stroke="#000" stroke-width="6"/>
<line x1="1401.5" y1="771" x2="1401.5" y2="781" stroke="#000" stroke-width="5" stroke-linecap="butt"/>
<line x1="1544.4" y1="771" x2="1544.4" y2="787.5" stroke="#000" stroke-width="5" stroke-linecap="butt"/>
<line x1="1687.2" y1="771" x2="1687.2" y2="781" stroke="#000" stroke-width="5" stroke-linecap="butt"/>
<line x1="1830.1" y1="771" x2="1830.1" y2="787.5" stroke="#000" stroke-width="5" stroke-linecap="butt"/>
<line x1="1972.9" y1="771" x2="1972.9" y2="781" stroke="#000" stroke-width="5" stroke-linecap="butt"/>
<line x1="2115.8" y1="771" x2="2115.8" y2="787.5" stroke="#000" stroke-width="5" stroke-linecap="butt"/>
<line x1="2258.7" y1="771" x2="2258.7" y2="781" stroke="#000" stroke-width="5" stroke-linecap="butt"/>
<line x1="2401.5" y1="771" x2="2401.5" y2="787.5" stroke="#000" stroke-width="5" stroke-linecap="butt"/>
<line x1="1385" y1="770.4" x2="1402" y2="770.4" stroke="#000" stroke-width="5" stroke-linecap="butt"/>
<line x1="1392" y1="713.6" x2="1402" y2="713.6" stroke="#000" stroke-width="5" stroke-linecap="butt"/>
<line x1="1385" y1="656.8" x2="1402" y2="656.8" stroke="#000" stroke-width="5" stroke-linecap="butt"/>
<line x1="1392" y1="600.1" x2="1402" y2="600.1" stroke="#000" stroke-width="5" stroke-linecap="butt"/>
<line x1="1385" y1="543.3" x2="1402" y2="543.3" stroke="#000" stroke-width="5" stroke-linecap="butt"/>
<line x1="1392" y1="486.5" x2="1402" y2="486.5" stroke="#000" stroke-width="5" stroke-linecap="butt"/>
<line x1="1385" y1="429.7" x2="1402" y2="429.7" stroke="#000" stroke-width="5" stroke-linecap="butt"/>
<line x1="1392" y1="372.9" x2="1402" y2="372.9" stroke="#000" stroke-width="5" stroke-linecap="butt"/>
<line x1="1385" y1="316.1" x2="1402" y2="316.1" stroke="#000" stroke-width="5" stroke-linecap="butt"/>
<line x1="1392" y1="259.4" x2="1402" y2="259.4" stroke="#000" stroke-width="5" stroke-linecap="butt"/>
<line x1="1385" y1="202.6" x2="1402" y2="202.6" stroke="#000" stroke-width="5" stroke-linecap="butt"/>
<line x1="1392" y1="145.8" x2="1402" y2="145.8" stroke="#000" stroke-width="5" stroke-linecap="butt"/>
<line x1="1385" y1="89" x2="1402" y2="89" stroke="#000" stroke-width="5" stroke-linecap="butt"/>
<line x1="1392" y1="32.2" x2="1402" y2="32.2" stroke="#000" stroke-width="5" stroke-linecap="butt"/>
<text x="1327.3" y="787" font-size="67" letter-spacing="-4.00">-6</text>
<text x="1327.3" y="673.4" font-size="67" letter-spacing="-4.00">-5</text>
<text x="1327.3" y="559.9" font-size="67" letter-spacing="-4.00">-4</text>
<text x="1327.3" y="446.3" font-size="67" letter-spacing="-4.00">-3</text>
<text x="1327.3" y="332.7" font-size="67" letter-spacing="-4.00">-2</text>
<text x="1327.3" y="219.2" font-size="67" letter-spacing="-4.00">-1</text>
<text x="1345.6" y="105.6" font-size="67" letter-spacing="-4.00">0</text>
<text x="1508.1" y="840.2" font-size="67" letter-spacing="-4.00">0.4</text>
<text x="1794.3" y="840.2" font-size="67" letter-spacing="-4.00">0.6</text>
<text x="2080.3" y="840.2" font-size="67" letter-spacing="-4.00">0.8</text>
<text x="2364.4" y="840.2" font-size="67" letter-spacing="-4.00">1.0</text>
<line x1="2088" y1="317.2" x2="2174.6" y2="317.2" stroke="#141414" stroke-width="5" stroke-linecap="butt"/>
<text x="2185.5" y="330.4" font-size="58" letter-spacing="-2.20">400 rpm</text>
<line x1="2088" y1="382.5" x2="2174.6" y2="382.5" stroke="#e3202b" stroke-width="5" stroke-linecap="butt"/>
<text x="2185.5" y="395.7" font-size="58" letter-spacing="-2.20">625 rpm</text>
<line x1="2088" y1="446.8" x2="2174.6" y2="446.8" stroke="#6ab82e" stroke-width="5" stroke-linecap="butt"/>
<text x="2185.5" y="460" font-size="58" letter-spacing="-2.20">900 rpm</text>
<line x1="2088" y1="512" x2="2174.6" y2="512" stroke="#27509f" stroke-width="5" stroke-linecap="butt"/>
<text x="2185.5" y="525.2" font-size="58" letter-spacing="-2.20">1225 rpm</text>
<line x1="2088" y1="576.3" x2="2174.6" y2="576.3" stroke="#5ec9c4" stroke-width="5" stroke-linecap="butt"/>
<text x="2185.5" y="589.5" font-size="58" letter-spacing="-2.20">1600 rpm</text>
<line x1="2088" y1="641.7" x2="2174.6" y2="641.7" stroke="#a8569a" stroke-width="5" stroke-linecap="butt"/>
<text x="2185.5" y="654.9" font-size="58" letter-spacing="-2.20">2025 rpm</text>
<line x1="2088" y1="705.9" x2="2174.6" y2="705.9" stroke="#5a4aa6" stroke-width="5" stroke-linecap="butt"/>
<text x="2185.5" y="719.1" font-size="58" letter-spacing="-2.20">2500 rpm</text>
<text transform="translate(1446.9 296.4) scale(0.930 1)" font-size="72" letter-spacing="-0.02">CS</text>
<text transform="translate(1522.8 320.3) scale(0.930 1)" font-size="45.3" letter-spacing="-1.33">6-650</text>
<text transform="translate(1436 142.1) scale(1.056 1)" font-size="130" letter-spacing="0.00">b</text>
<text transform="translate(1670.2 892.1) scale(0.930 1)" font-size="65" letter-spacing="-0.58">Potential (V vs. RHE)</text>
<text transform="translate(1303.7 121) rotate(-90) scale(1.150 1)" font-size="63.2" letter-spacing="0.00">)</text>
<text transform="translate(1285.3 144.6) rotate(-90) scale(0.930 1)" font-size="40.6" letter-spacing="-5.36">-2</text>
<text transform="translate(1303.2 753.1) rotate(-90) scale(0.930 1)" font-size="64.6" letter-spacing="0.69">Current Density (mA cm</text>
<path d="M195.5 1334.3 L207.7 1333.8 L213.3 1333.6 L219.8 1333.3 L226.9 1333.1 L234.3 1332.8 L242.0 1332.5 L249.6 1332.2 L257.4 1331.9 L265.1 1331.6 L272.8 1331.3 L280.6 1331.0 L288.3 1330.7 L296.1 1330.4 L303.9 1330.1 L311.7 1329.8 L319.5 1329.6 L327.4 1329.3 L335.2 1329.0 L343.1 1328.8 L350.9 1328.5 L358.8 1328.3 L366.6 1328.1 L374.5 1327.9 L382.3 1327.7 L390.1 1327.6 L398.0 1327.4 L405.8 1327.4 L413.7 1327.3 L421.5 1327.2 L429.4 1327.2 L437.2 1327.1 L445.1 1327.1 L452.9 1327.2 L460.8 1327.3 L468.6 1327.4 L476.5 1327.7 L484.3 1328.0 L492.2 1328.3 L500.0 1328.7 L507.8 1329.0 L515.6 1329.3 L523.4 1329.6 L531.1 1329.8 L538.8 1330.0 L546.4 1330.2 L554.1 1330.3 L561.8 1330.5 L569.4 1330.6 L577.0 1330.7 L584.6 1330.8 L592.2 1330.8 L599.8 1330.7 L607.4 1330.5 L614.9 1330.3 L622.4 1330.0 L629.8 1329.6 L637.3 1329.2 L644.8 1328.8 L652.2 1328.3 L659.7 1327.8 L667.2 1327.2 L674.6 1326.6 L682.1 1325.9 L689.5 1325.2 L697.0 1324.4 L704.5 1323.6 L711.9 1322.7 L719.3 1321.7 L726.7 1320.8 L734.1 1319.7 L741.4 1318.7 L748.6 1317.5 L755.7 1316.3 L762.7 1314.8 L769.6 1313.2 L776.5 1311.3 L783.3 1309.2 L790.0 1306.9 L796.8 1304.4 L803.6 1301.8 L810.5 1299.2 L817.5 1296.6 L824.4 1293.8 L831.2 1290.9 L837.8 1287.7 L844.2 1284.2 L850.2 1280.3 L855.9 1276.0 L861.3 1271.4 L866.5 1266.6 L871.3 1261.5 L876.0 1256.3 L880.5 1250.9 L884.9 1245.3 L889.1 1239.6 L893.3 1233.8 L897.4 1227.9 L901.6 1221.9 L905.8 1215.7 L910.1 1209.5 L914.4 1203.2 L918.7 1196.8 L922.9 1190.3 L927.1 1183.7 L931.2 1177.1 L935.2 1170.5 L939.2 1163.9 L943.1 1157.3 L946.9 1150.7 L950.6 1144.2 L954.4 1137.6 L958.2 1131.1 L962.1 1124.6 L966.0 1118.2 L970.0 1111.7 L974.2 1105.3 L978.4 1098.9 L982.7 1092.6 L987.1 1086.4 L991.6 1080.3 L996.1 1074.3 L1000.6 1068.6 L1005.3 1063.0 L1010.0 1057.6 L1014.8 1052.5 L1019.9 1047.5 L1025.1 1042.8 L1030.5 1038.2 L1036.2 1034.0 L1042.0 1030.0 L1048.2 1026.4 L1054.5 1023.1 L1061.0 1020.3 L1067.8 1017.9 L1074.6 1015.8 L1081.6 1014.0 L1088.7 1012.5 L1095.9 1011.2 L1103.3 1010.1 L1110.8 1009.2 L1118.3 1008.4 L1126.0 1007.8 L1133.8 1007.2 L1141.7 1006.8 L1149.4 1006.3 L1156.9 1005.9 L1163.9 1005.6 L1170.2 1005.3 L1175.4 1005.0 L1185.5 1004.5" fill="none" stroke="#141414" stroke-width="5.5" stroke-linejoin="round"/>
<path d="M195.5 1393.4 L207.7 1392.8 L213.3 1392.5 L219.8 1392.1 L226.9 1391.7 L234.3 1391.4 L242.0 1391.0 L249.6 1390.5 L257.4 1390.1 L265.1 1389.7 L272.8 1389.3 L280.6 1389.0 L288.3 1388.6 L296.1 1388.3 L303.9 1388.0 L311.7 1387.7 L319.5 1387.5 L327.4 1387.2 L335.2 1387.0 L343.1 1386.8 L350.9 1386.6 L358.8 1386.5 L366.6 1386.3 L374.5 1386.1 L382.3 1385.9 L390.2 1385.8 L398.0 1385.6 L405.9 1385.6 L413.7 1385.6 L421.6 1385.6 L429.4 1385.7 L437.3 1385.9 L445.1 1386.1 L452.9 1386.3 L460.8 1386.6 L468.6 1386.9 L476.5 1387.2 L484.3 1387.5 L492.2 1387.9 L500.0 1388.3 L507.8 1388.6 L515.6 1389.0 L523.4 1389.3 L531.1 1389.6 L538.8 1389.9 L546.4 1390.1 L554.1 1390.4 L561.8 1390.6 L569.4 1390.8 L577.0 1391.0 L584.6 1391.2 L592.2 1391.3 L599.8 1391.3 L607.4 1391.3 L614.9 1391.1 L622.4 1390.9 L629.8 1390.6 L637.3 1390.2 L644.8 1389.8 L652.2 1389.1 L659.7 1388.4 L667.2 1387.6 L674.6 1386.6 L682.1 1385.6 L689.5 1384.4 L697.0 1383.2 L704.5 1381.8 L711.9 1380.4 L719.3 1378.9 L726.7 1377.3 L734.1 1375.7 L741.4 1374.0 L748.6 1372.2 L755.7 1370.4 L762.7 1368.3 L769.6 1366.0 L776.5 1363.4 L783.2 1360.5 L789.9 1357.3 L796.5 1353.8 L803.1 1350.0 L809.5 1346.0 L815.9 1341.8 L822.1 1337.3 L828.2 1332.6 L834.1 1327.7 L839.8 1322.5 L845.3 1317.2 L850.7 1311.7 L855.9 1306.0 L860.9 1300.2 L865.7 1294.4 L870.2 1288.5 L874.7 1282.5 L878.9 1276.4 L883.1 1270.2 L887.2 1263.9 L891.2 1257.5 L895.2 1251.0 L899.1 1244.5 L903.1 1237.9 L907.0 1231.3 L910.9 1224.7 L914.8 1218.1 L918.7 1211.6 L922.6 1205.2 L926.4 1198.8 L930.2 1192.4 L934.0 1186.0 L937.6 1179.5 L941.3 1173.0 L944.9 1166.5 L948.5 1159.9 L952.2 1153.3 L955.8 1146.6 L959.6 1140.0 L963.3 1133.3 L967.2 1126.7 L971.1 1120.0 L975.0 1113.4 L979.0 1106.9 L983.1 1100.4 L987.2 1094.1 L991.3 1087.9 L995.4 1081.8 L999.7 1075.9 L1004.1 1070.2 L1008.7 1064.5 L1013.5 1058.9 L1018.6 1053.5 L1023.8 1048.3 L1029.4 1043.4 L1035.1 1038.7 L1041.1 1034.4 L1047.3 1030.4 L1053.8 1026.8 L1060.4 1023.5 L1067.3 1020.6 L1074.3 1018.0 L1081.4 1015.6 L1088.6 1013.7 L1096.0 1012.0 L1103.4 1010.7 L1111.0 1009.7 L1118.8 1009.0 L1126.5 1008.4 L1134.3 1007.9 L1142.1 1007.4 L1149.8 1007.0 L1157.2 1006.6 L1164.2 1006.2 L1170.4 1005.8 L1175.6 1005.5 L1185.5 1005.0" fill="none" stroke="#e3202b" stroke-width="5" stroke-linejoin="round"/>
<path d="M195.5 1438.7 L207.7 1438.2 L213.3 1438.0 L219.8 1437.7 L226.9 1437.5 L234.3 1437.2 L242.0 1436.9 L249.6 1436.6 L257.4 1436.3 L265.1 1436.0 L272.8 1435.7 L280.6 1435.4 L288.3 1435.1 L296.1 1434.8 L303.9 1434.6 L311.7 1434.4 L319.5 1434.1 L327.4 1433.9 L335.2 1433.7 L343.1 1433.5 L350.9 1433.3 L358.8 1433.2 L366.6 1433.0 L374.5 1432.8 L382.3 1432.6 L390.2 1432.5 L398.0 1432.4 L405.9 1432.3 L413.7 1432.4 L421.6 1432.5 L429.4 1432.6 L437.3 1432.8 L445.1 1433.1 L453.0 1433.3 L460.8 1433.6 L468.7 1433.8 L476.5 1434.1 L484.4 1434.4 L492.2 1434.7 L500.0 1435.1 L507.9 1435.4 L515.7 1435.8 L523.6 1436.2 L531.4 1436.5 L539.3 1436.9 L547.1 1437.3 L554.9 1437.6 L562.6 1437.9 L570.2 1438.0 L577.8 1438.1 L585.3 1438.1 L592.7 1437.9 L600.1 1437.7 L607.6 1437.4 L615.0 1437.1 L622.4 1436.7 L629.9 1436.3 L637.3 1435.8 L644.8 1435.2 L652.2 1434.5 L659.7 1433.7 L667.2 1432.8 L674.6 1431.8 L682.1 1430.7 L689.5 1429.4 L697.0 1428.0 L704.5 1426.4 L711.9 1424.7 L719.3 1422.8 L726.7 1420.6 L734.1 1418.3 L741.3 1415.7 L748.5 1412.8 L755.4 1409.6 L762.2 1406.1 L768.7 1402.3 L775.0 1398.3 L781.0 1394.0 L787.0 1389.6 L792.8 1385.0 L798.6 1380.2 L804.5 1375.4 L810.3 1370.6 L816.2 1365.9 L822.1 1361.1 L827.9 1356.5 L833.7 1351.7 L839.3 1346.9 L844.7 1341.9 L849.8 1336.8 L854.7 1331.4 L859.3 1325.9 L863.7 1320.2 L867.9 1314.3 L871.9 1308.2 L875.8 1302.1 L879.6 1295.8 L883.3 1289.5 L887.0 1283.0 L890.6 1276.5 L894.1 1270.0 L897.6 1263.4 L901.1 1256.8 L904.6 1250.2 L908.1 1243.6 L911.6 1237.1 L915.1 1230.6 L918.5 1224.1 L922.0 1217.7 L925.4 1211.4 L928.9 1205.0 L932.3 1198.7 L935.6 1192.3 L939.0 1185.9 L942.3 1179.5 L945.6 1173.0 L949.0 1166.5 L952.4 1159.9 L955.9 1153.3 L959.5 1146.6 L963.2 1140.0 L966.9 1133.3 L970.6 1126.7 L974.5 1120.0 L978.3 1113.4 L982.2 1106.9 L986.1 1100.4 L990.1 1094.1 L994.0 1087.9 L998.1 1081.8 L1002.2 1075.9 L1006.6 1070.2 L1011.1 1064.5 L1015.9 1058.9 L1021.0 1053.5 L1026.3 1048.3 L1032.0 1043.4 L1037.9 1038.7 L1044.1 1034.4 L1050.5 1030.4 L1057.2 1026.8 L1064.1 1023.5 L1071.1 1020.5 L1078.2 1017.8 L1085.4 1015.4 L1092.6 1013.4 L1099.9 1011.7 L1107.4 1010.4 L1115.0 1009.5 L1122.7 1008.7 L1130.5 1008.1 L1138.3 1007.6 L1146.0 1007.2 L1153.6 1006.8 L1160.8 1006.4 L1167.4 1006.0 L1173.1 1005.7 L1185.5 1005.0" fill="none" stroke="#6ab82e" stroke-width="5" stroke-linejoin="round"/>
<path d="M195.5 1488.2 L207.6 1487.6 L213.2 1487.3 L219.6 1486.9 L226.7 1486.5 L234.1 1486.1 L241.7 1485.7 L249.4 1485.3 L257.1 1484.9 L264.8 1484.5 L272.6 1484.1 L280.3 1483.7 L288.1 1483.3 L296.0 1482.9 L303.8 1482.5 L311.6 1482.1 L319.5 1481.7 L327.3 1481.3 L335.2 1481.0 L343.0 1480.7 L350.9 1480.4 L358.7 1480.2 L366.6 1480.1 L374.4 1480.0 L382.3 1479.9 L390.2 1479.9 L398.0 1479.9 L405.9 1479.9 L413.7 1480.0 L421.6 1480.1 L429.4 1480.2 L437.3 1480.4 L445.1 1480.7 L453.0 1481.1 L460.8 1481.5 L468.7 1482.0 L476.5 1482.5 L484.4 1483.0 L492.2 1483.5 L500.0 1484.0 L507.8 1484.3 L515.6 1484.6 L523.4 1484.8 L531.1 1484.9 L538.8 1484.9 L546.4 1484.9 L554.1 1484.8 L561.8 1484.7 L569.4 1484.5 L577.0 1484.3 L584.6 1484.2 L592.2 1483.9 L599.8 1483.6 L607.4 1483.3 L614.9 1482.9 L622.4 1482.4 L629.8 1481.9 L637.3 1481.2 L644.8 1480.5 L652.2 1479.6 L659.7 1478.6 L667.2 1477.5 L674.6 1476.2 L682.1 1474.8 L689.5 1473.2 L697.0 1471.5 L704.4 1469.5 L711.9 1467.3 L719.3 1464.9 L726.6 1462.3 L733.7 1459.4 L740.7 1456.3 L747.5 1452.9 L754.0 1449.1 L760.4 1445.1 L766.5 1440.9 L772.4 1436.4 L778.2 1431.8 L783.8 1427.0 L789.3 1422.0 L794.6 1416.7 L799.8 1411.3 L805.0 1405.6 L810.1 1399.9 L815.2 1394.2 L820.3 1388.4 L825.4 1382.5 L830.5 1376.7 L835.4 1370.9 L840.3 1365.0 L845.1 1359.2 L849.6 1353.2 L854.0 1347.3 L858.3 1341.2 L862.3 1335.1 L866.2 1328.9 L870.0 1322.6 L873.7 1316.3 L877.3 1309.9 L880.8 1303.5 L884.3 1297.1 L887.8 1290.6 L891.2 1284.0 L894.6 1277.5 L898.0 1271.0 L901.4 1264.4 L904.8 1257.8 L908.3 1251.2 L911.7 1244.6 L915.1 1237.9 L918.6 1231.1 L922.0 1224.3 L925.5 1217.5 L928.9 1210.6 L932.3 1203.8 L935.7 1197.0 L939.1 1190.2 L942.5 1183.4 L945.8 1176.7 L949.2 1170.0 L952.6 1163.4 L956.1 1156.7 L959.6 1150.0 L963.2 1143.3 L966.8 1136.7 L970.5 1130.0 L974.3 1123.3 L978.1 1116.7 L982.0 1110.0 L985.9 1103.4 L989.9 1096.7 L994.1 1090.1 L998.3 1083.6 L1002.7 1077.2 L1007.3 1071.0 L1012.0 1065.0 L1017.0 1059.2 L1022.2 1053.7 L1027.6 1048.4 L1033.3 1043.4 L1039.3 1038.7 L1045.6 1034.4 L1052.1 1030.4 L1058.9 1026.8 L1065.8 1023.5 L1072.8 1020.5 L1079.7 1017.8 L1086.7 1015.4 L1093.6 1013.4 L1100.6 1011.7 L1107.8 1010.4 L1115.2 1009.5 L1122.8 1008.7 L1130.5 1008.1 L1138.3 1007.6 L1146.0 1007.2 L1153.6 1006.8 L1160.8 1006.4 L1167.4 1006.0 L1173.1 1005.7 L1185.5 1005.0" fill="none" stroke="#27509f" stroke-width="5" stroke-linejoin="round"/>
<path d="M195.5 1528.0 L207.7 1527.8 L213.3 1527.8 L219.8 1527.7 L226.9 1527.6 L234.3 1527.5 L242.0 1527.4 L249.6 1527.3 L257.4 1527.2 L265.1 1527.1 L272.8 1527.0 L280.6 1526.9 L288.3 1526.8 L296.1 1526.7 L303.9 1526.6 L311.7 1526.5 L319.5 1526.4 L327.4 1526.3 L335.2 1526.2 L343.1 1526.1 L350.9 1526.0 L358.8 1525.9 L366.6 1525.8 L374.5 1525.7 L382.3 1525.7 L390.2 1525.6 L398.0 1525.6 L405.9 1525.6 L413.7 1525.7 L421.6 1525.9 L429.4 1526.1 L437.3 1526.4 L445.1 1526.6 L453.0 1526.9 L460.8 1527.2 L468.7 1527.5 L476.5 1527.8 L484.4 1528.1 L492.2 1528.3 L500.0 1528.6 L507.8 1528.8 L515.6 1528.9 L523.4 1529.0 L531.1 1528.9 L538.8 1528.9 L546.4 1528.8 L554.1 1528.6 L561.8 1528.4 L569.4 1528.3 L577.0 1528.0 L584.6 1527.8 L592.2 1527.4 L599.8 1527.0 L607.4 1526.5 L614.9 1525.9 L622.4 1525.2 L629.8 1524.5 L637.3 1523.6 L644.8 1522.6 L652.2 1521.5 L659.7 1520.2 L667.1 1518.8 L674.5 1517.3 L681.9 1515.5 L689.2 1513.5 L696.5 1511.3 L703.6 1508.8 L710.7 1505.9 L717.7 1502.9 L724.6 1499.6 L731.4 1496.1 L738.1 1492.3 L744.7 1488.3 L751.1 1484.1 L757.4 1479.7 L763.5 1475.1 L769.4 1470.4 L775.2 1465.7 L780.8 1460.8 L786.1 1455.7 L791.2 1450.4 L796.1 1444.8 L800.7 1438.9 L805.3 1432.9 L809.6 1426.9 L813.9 1420.7 L818.1 1414.6 L822.2 1408.5 L826.2 1402.3 L830.2 1396.2 L834.1 1390.0 L837.9 1383.7 L841.7 1377.4 L845.4 1371.0 L849.2 1364.6 L852.9 1358.0 L856.6 1351.3 L860.3 1344.5 L864.0 1337.7 L867.7 1330.9 L871.2 1324.0 L874.8 1317.2 L878.2 1310.3 L881.6 1303.5 L885.0 1296.7 L888.3 1289.9 L891.6 1283.1 L894.8 1276.3 L898.0 1269.5 L901.2 1262.7 L904.4 1255.9 L907.6 1249.0 L910.9 1242.1 L914.2 1235.2 L917.6 1228.2 L920.9 1221.2 L924.3 1214.2 L927.8 1207.3 L931.2 1200.4 L934.7 1193.6 L938.1 1186.8 L941.6 1180.1 L945.1 1173.4 L948.6 1166.7 L952.1 1160.0 L955.6 1153.3 L959.2 1146.7 L962.9 1140.0 L966.6 1133.3 L970.4 1126.7 L974.2 1120.0 L978.1 1113.4 L982.0 1106.9 L985.9 1100.4 L989.9 1094.1 L993.8 1087.9 L997.9 1081.8 L1002.1 1075.9 L1006.4 1070.2 L1011.0 1064.5 L1015.8 1058.9 L1020.8 1053.5 L1026.2 1048.3 L1031.8 1043.4 L1037.7 1038.7 L1043.9 1034.4 L1050.3 1030.4 L1057.0 1026.8 L1063.9 1023.5 L1070.9 1020.5 L1078.0 1017.8 L1085.2 1015.4 L1092.5 1013.4 L1099.8 1011.7 L1107.3 1010.4 L1114.9 1009.5 L1122.7 1008.7 L1130.4 1008.1 L1138.2 1007.6 L1146.0 1007.2 L1153.6 1006.8 L1160.8 1006.4 L1167.4 1006.0 L1173.1 1005.7 L1185.5 1005.0" fill="none" stroke="#5ec9c4" stroke-width="5" stroke-linejoin="round"/>
<path d="M195.5 1569.2 L207.7 1568.9 L213.3 1568.7 L219.8 1568.6 L226.9 1568.4 L234.3 1568.2 L242.0 1568.0 L249.6 1567.8 L257.4 1567.6 L265.1 1567.4 L272.8 1567.2 L280.6 1567.0 L288.3 1566.8 L296.1 1566.6 L303.9 1566.4 L311.7 1566.2 L319.5 1566.0 L327.4 1565.8 L335.2 1565.6 L343.1 1565.4 L350.9 1565.2 L358.8 1565.0 L366.6 1564.9 L374.5 1564.8 L382.3 1564.8 L390.1 1565.0 L398.0 1565.2 L405.8 1565.4 L413.7 1565.7 L421.5 1566.0 L429.4 1566.4 L437.2 1566.7 L445.1 1567.0 L452.9 1567.3 L460.8 1567.5 L468.6 1567.8 L476.5 1567.9 L484.3 1568.1 L492.2 1568.2 L500.0 1568.3 L507.9 1568.4 L515.7 1568.5 L523.6 1568.6 L531.4 1568.7 L539.3 1568.8 L547.1 1568.8 L554.9 1568.8 L562.6 1568.7 L570.2 1568.5 L577.8 1568.1 L585.3 1567.6 L592.7 1567.0 L600.1 1566.4 L607.6 1565.6 L615.0 1564.9 L622.4 1564.1 L629.9 1563.1 L637.3 1562.1 L644.8 1560.8 L652.2 1559.3 L659.7 1557.6 L667.1 1555.6 L674.5 1553.4 L681.9 1550.9 L689.1 1548.2 L696.3 1545.3 L703.3 1542.0 L710.2 1538.5 L717.1 1534.7 L723.8 1530.8 L730.5 1526.8 L737.2 1522.7 L743.7 1518.6 L750.3 1514.3 L756.7 1510.0 L763.0 1505.6 L769.1 1501.0 L775.0 1496.3 L780.7 1491.4 L786.0 1486.1 L791.2 1480.6 L796.0 1474.8 L800.7 1468.8 L805.1 1462.5 L809.4 1456.1 L813.6 1449.5 L817.6 1442.8 L821.6 1436.1 L825.4 1429.3 L829.3 1422.5 L833.0 1415.8 L836.6 1409.0 L840.2 1402.4 L843.7 1395.7 L847.2 1389.1 L850.7 1382.4 L854.1 1375.7 L857.5 1369.0 L860.9 1362.2 L864.4 1355.4 L867.8 1348.5 L871.2 1341.6 L874.6 1334.7 L878.0 1327.7 L881.4 1320.7 L884.7 1313.6 L888.1 1306.6 L891.4 1299.5 L894.7 1292.5 L897.9 1285.4 L901.1 1278.4 L904.2 1271.3 L907.4 1264.3 L910.5 1257.3 L913.7 1250.2 L916.8 1243.2 L920.0 1236.2 L923.1 1229.2 L926.3 1222.2 L929.5 1215.2 L932.7 1208.3 L936.0 1201.3 L939.3 1194.4 L942.6 1187.4 L946.0 1180.5 L949.3 1173.7 L952.7 1166.9 L956.1 1160.1 L959.6 1153.4 L963.1 1146.7 L966.7 1140.0 L970.3 1133.3 L974.0 1126.7 L977.8 1120.0 L981.6 1113.3 L985.4 1106.7 L989.4 1100.0 L993.4 1093.4 L997.5 1086.9 L1001.8 1080.4 L1006.2 1074.1 L1010.8 1068.0 L1015.6 1062.1 L1020.7 1056.4 L1025.9 1051.0 L1031.3 1046.0 L1037.0 1041.3 L1042.8 1036.9 L1048.8 1033.0 L1055.0 1029.4 L1061.2 1026.2 L1067.6 1023.2 L1074.0 1020.5 L1080.4 1018.1 L1087.0 1015.8 L1093.7 1013.8 L1100.6 1012.0 L1107.8 1010.6 L1115.2 1009.6 L1122.8 1008.8 L1130.5 1008.2 L1138.3 1007.7 L1146.0 1007.2 L1153.6 1006.8 L1160.8 1006.4 L1167.4 1006.0 L1173.1 1005.7 L1185.5 1005.0" fill="none" stroke="#a8569a" stroke-width="5" stroke-linejoin="round"/>
<path d="M195.5 1603.6 L207.7 1603.1 L213.3 1602.9 L219.8 1602.6 L226.9 1602.4 L234.3 1602.1 L242.0 1601.8 L249.6 1601.5 L257.4 1601.2 L265.1 1600.9 L272.8 1600.6 L280.6 1600.3 L288.3 1600.0 L296.1 1599.7 L303.9 1599.5 L311.7 1599.2 L319.5 1599.0 L327.4 1598.8 L335.2 1598.6 L343.1 1598.4 L350.9 1598.2 L358.8 1598.0 L366.6 1597.8 L374.5 1597.7 L382.3 1597.7 L390.1 1597.7 L398.0 1597.8 L405.8 1598.0 L413.7 1598.2 L421.5 1598.4 L429.4 1598.6 L437.2 1598.8 L445.1 1599.0 L452.9 1599.3 L460.8 1599.6 L468.6 1600.0 L476.5 1600.4 L484.3 1600.9 L492.2 1601.4 L500.0 1601.9 L507.9 1602.4 L515.7 1602.9 L523.5 1603.3 L531.3 1603.7 L539.1 1604.0 L546.8 1604.2 L554.5 1604.2 L562.1 1604.1 L569.7 1603.9 L577.3 1603.6 L584.9 1603.2 L592.4 1602.8 L599.9 1602.2 L607.4 1601.6 L614.9 1600.8 L622.4 1599.9 L629.8 1598.9 L637.3 1597.7 L644.8 1596.3 L652.2 1594.6 L659.7 1592.7 L667.1 1590.5 L674.4 1588.0 L681.7 1585.4 L688.8 1582.4 L695.8 1579.2 L702.5 1575.6 L709.0 1571.8 L715.4 1567.7 L721.6 1563.5 L727.7 1559.0 L733.7 1554.4 L739.5 1549.7 L745.2 1544.8 L750.8 1539.8 L756.3 1534.7 L761.6 1529.6 L766.9 1524.4 L772.1 1519.3 L777.2 1514.1 L782.2 1508.8 L787.0 1503.3 L791.8 1497.7 L796.4 1491.9 L800.8 1485.9 L805.2 1479.6 L809.4 1473.2 L813.6 1466.7 L817.6 1460.0 L821.6 1453.2 L825.4 1446.4 L829.3 1439.5 L833.0 1432.5 L836.6 1425.6 L840.2 1418.5 L843.7 1411.5 L847.1 1404.4 L850.5 1397.4 L853.8 1390.4 L857.1 1383.5 L860.3 1376.6 L863.5 1369.8 L866.6 1362.9 L869.8 1356.1 L872.9 1349.2 L876.0 1342.3 L879.2 1335.3 L882.3 1328.4 L885.5 1321.4 L888.6 1314.4 L891.7 1307.4 L894.9 1300.4 L898.0 1293.4 L901.1 1286.4 L904.3 1279.4 L907.4 1272.4 L910.6 1265.4 L913.7 1258.4 L916.8 1251.3 L920.0 1244.3 L923.2 1237.2 L926.4 1230.2 L929.6 1223.2 L932.9 1216.1 L936.2 1209.1 L939.5 1202.1 L942.7 1195.1 L945.9 1188.1 L949.1 1181.2 L952.2 1174.3 L955.4 1167.4 L958.7 1160.6 L962.0 1153.9 L965.4 1147.2 L968.9 1140.6 L972.5 1134.0 L976.1 1127.5 L979.7 1120.9 L983.4 1114.4 L987.0 1107.9 L990.7 1101.4 L994.5 1094.9 L998.4 1088.4 L1002.4 1082.1 L1006.5 1075.8 L1010.8 1069.7 L1015.4 1063.8 L1020.2 1058.2 L1025.2 1052.8 L1030.6 1047.6 L1036.2 1042.8 L1042.0 1038.2 L1048.2 1034.0 L1054.5 1030.3 L1061.0 1026.9 L1067.8 1023.9 L1074.6 1021.3 L1081.6 1018.9 L1088.7 1016.8 L1095.9 1015.0 L1103.3 1013.3 L1110.8 1011.9 L1118.3 1010.7 L1126.0 1009.8 L1133.8 1009.0 L1141.7 1008.3 L1149.4 1007.8 L1156.9 1007.3 L1163.9 1006.8 L1170.2 1006.4 L1175.4 1006.0 L1185.5 1005.4" fill="none" stroke="#5a4aa6" stroke-width="5" stroke-linejoin="round"/>
<rect x="193.5" y="940.4" width="993" height="735.6" fill="none" stroke="#000" stroke-width="6"/>
<line x1="193.2" y1="1676" x2="193.2" y2="1686" stroke="#000" stroke-width="5" stroke-linecap="butt"/>
<line x1="335" y1="1676" x2="335" y2="1692.5" stroke="#000" stroke-width="5" stroke-linecap="butt"/>
<line x1="476.7" y1="1676" x2="476.7" y2="1686" stroke="#000" stroke-width="5" stroke-linecap="butt"/>
<line x1="618.5" y1="1676" x2="618.5" y2="1692.5" stroke="#000" stroke-width="5" stroke-linecap="butt"/>
<line x1="760.2" y1="1676" x2="760.2" y2="1686" stroke="#000" stroke-width="5" stroke-linecap="butt"/>
<line x1="902" y1="1676" x2="902" y2="1692.5" stroke="#000" stroke-width="5" stroke-linecap="butt"/>
<line x1="1043.7" y1="1676" x2="1043.7" y2="1686" stroke="#000" stroke-width="5" stroke-linecap="butt"/>
<line x1="1185.4" y1="1676" x2="1185.4" y2="1692.5" stroke="#000" stroke-width="5" stroke-linecap="butt"/>
<line x1="183.5" y1="1662.7" x2="193.5" y2="1662.7" stroke="#000" stroke-width="5" stroke-linecap="butt"/>
<line x1="176.5" y1="1602.5" x2="193.5" y2="1602.5" stroke="#000" stroke-width="5" stroke-linecap="butt"/>
<line x1="183.5" y1="1542.3" x2="193.5" y2="1542.3" stroke="#000" stroke-width="5" stroke-linecap="butt"/>
<line x1="176.5" y1="1482.1" x2="193.5" y2="1482.1" stroke="#000" stroke-width="5" stroke-linecap="butt"/>
<line x1="183.5" y1="1421.9" x2="193.5" y2="1421.9" stroke="#000" stroke-width="5" stroke-linecap="butt"/>
<line x1="176.5" y1="1361.7" x2="193.5" y2="1361.7" stroke="#000" stroke-width="5" stroke-linecap="butt"/>
<line x1="183.5" y1="1301.5" x2="193.5" y2="1301.5" stroke="#000" stroke-width="5" stroke-linecap="butt"/>
<line x1="176.5" y1="1241.3" x2="193.5" y2="1241.3" stroke="#000" stroke-width="5" stroke-linecap="butt"/>
<line x1="183.5" y1="1181.1" x2="193.5" y2="1181.1" stroke="#000" stroke-width="5" stroke-linecap="butt"/>
<line x1="176.5" y1="1120.9" x2="193.5" y2="1120.9" stroke="#000" stroke-width="5" stroke-linecap="butt"/>
<line x1="183.5" y1="1060.7" x2="193.5" y2="1060.7" stroke="#000" stroke-width="5" stroke-linecap="butt"/>
<line x1="176.5" y1="1000.5" x2="193.5" y2="1000.5" stroke="#000" stroke-width="5" stroke-linecap="butt"/>
<line x1="183.5" y1="940.3" x2="193.5" y2="940.3" stroke="#000" stroke-width="5" stroke-linecap="butt"/>
<text x="121.6" y="1620" font-size="67" letter-spacing="-4.00">-5</text>
<text x="121.6" y="1499.6" font-size="67" letter-spacing="-4.00">-4</text>
<text x="121.6" y="1379.2" font-size="67" letter-spacing="-4.00">-3</text>
<text x="121.6" y="1258.8" font-size="67" letter-spacing="-4.00">-2</text>
<text x="121.6" y="1138.4" font-size="67" letter-spacing="-4.00">-1</text>
<text x="139.9" y="1018" font-size="67" letter-spacing="-4.00">0</text>
<text x="299" y="1745" font-size="67" letter-spacing="-4.00">0.4</text>
<text x="583" y="1745" font-size="67" letter-spacing="-4.00">0.6</text>
<text x="866.8" y="1745" font-size="67" letter-spacing="-4.00">0.8</text>
<text x="1148.6" y="1745" font-size="67" letter-spacing="-4.00">1.0</text>
<line x1="907" y1="1274.8" x2="992" y2="1274.8" stroke="#141414" stroke-width="5" stroke-linecap="butt"/>
<text x="1001" y="1286.7" font-size="53" letter-spacing="-3.50">400 rpm</text>
<line x1="907" y1="1331.2" x2="992" y2="1331.2" stroke="#e3202b" stroke-width="5" stroke-linecap="butt"/>
<text x="1001" y="1343.1" font-size="53" letter-spacing="-3.50">625 rpm</text>
<line x1="907" y1="1387.7" x2="992" y2="1387.7" stroke="#6ab82e" stroke-width="5" stroke-linecap="butt"/>
<text x="1001" y="1399.6" font-size="53" letter-spacing="-3.50">900 rpm</text>
<line x1="907" y1="1442.5" x2="992" y2="1442.5" stroke="#27509f" stroke-width="5" stroke-linecap="butt"/>
<text x="1001" y="1454.4" font-size="53" letter-spacing="-3.50">1225 rpm</text>
<line x1="907" y1="1499" x2="992" y2="1499" stroke="#5ec9c4" stroke-width="5" stroke-linecap="butt"/>
<text x="1001" y="1510.9" font-size="53" letter-spacing="-3.50">1600 rpm</text>
<line x1="907" y1="1553.8" x2="992" y2="1553.8" stroke="#a8569a" stroke-width="5" stroke-linecap="butt"/>
<text x="1001" y="1565.7" font-size="53" letter-spacing="-3.50">2025 rpm</text>
<line x1="907" y1="1610.3" x2="992" y2="1610.3" stroke="#5a4aa6" stroke-width="5" stroke-linecap="butt"/>
<text x="1001" y="1622.2" font-size="53" letter-spacing="-3.50">2500 rpm</text>
<text transform="translate(227 1260.6) scale(0.930 1)" font-size="73.5" letter-spacing="-1.47">CS</text>
<text transform="translate(306.5 1259.6) scale(0.930 1)" font-size="44.9" letter-spacing="-1.89">12-650</text>
<text transform="translate(205.5 1034.7) scale(1.036 1)" font-size="125.2" letter-spacing="0.00">c</text>
<text transform="translate(458.2 1792.6) scale(0.930 1)" font-size="65.3" letter-spacing="-0.73">Potential (V vs. RHE)</text>
<text transform="translate(88.1 1023.4) rotate(-90) scale(1.222 1)" font-size="59.3" letter-spacing="0.00">)</text>
<text transform="translate(70.7 1046.9) rotate(-90) scale(0.930 1)" font-size="38.1" letter-spacing="-3.58">-2</text>
<text transform="translate(87.6 1653.7) rotate(-90) scale(0.930 1)" font-size="60.7" letter-spacing="2.46">Current Density (mA cm</text>
<path d="M1400.5 1284.6 L1412.7 1282.5 L1418.3 1281.6 L1424.8 1280.5 L1431.9 1279.3 L1439.3 1278.0 L1447.0 1276.7 L1454.6 1275.4 L1462.4 1274.1 L1470.1 1272.7 L1477.8 1271.4 L1485.6 1270.1 L1493.3 1268.9 L1501.1 1267.6 L1508.9 1266.4 L1516.7 1265.3 L1524.5 1264.1 L1532.4 1263.0 L1540.2 1261.9 L1548.1 1260.8 L1555.9 1259.7 L1563.8 1258.7 L1571.6 1257.6 L1579.5 1256.5 L1587.3 1255.4 L1595.2 1254.3 L1603.0 1253.2 L1610.9 1252.1 L1618.7 1251.1 L1626.6 1250.0 L1634.4 1248.9 L1642.3 1247.8 L1650.1 1246.7 L1658.0 1245.7 L1665.8 1244.6 L1673.7 1243.5 L1681.5 1242.4 L1689.4 1241.4 L1697.2 1240.3 L1705.1 1239.2 L1712.9 1238.1 L1720.8 1237.0 L1728.6 1236.0 L1736.5 1234.9 L1744.3 1233.8 L1752.2 1232.7 L1760.0 1231.6 L1767.9 1230.6 L1775.7 1229.5 L1783.6 1228.4 L1791.4 1227.3 L1799.3 1226.2 L1807.1 1225.1 L1814.9 1224.0 L1822.7 1222.9 L1830.5 1221.7 L1838.2 1220.5 L1845.8 1219.2 L1853.4 1217.8 L1861.0 1216.4 L1868.5 1215.0 L1876.0 1213.5 L1883.4 1212.0 L1890.8 1210.5 L1898.1 1209.0 L1905.5 1207.4 L1912.8 1205.9 L1920.1 1204.4 L1927.4 1202.9 L1934.8 1201.4 L1942.1 1199.8 L1949.4 1198.2 L1956.6 1196.3 L1963.7 1194.2 L1970.7 1191.8 L1977.6 1189.1 L1984.2 1186.0 L1990.6 1182.6 L1996.8 1178.9 L2002.7 1174.9 L2008.5 1170.5 L2014.1 1165.8 L2019.5 1160.8 L2024.8 1155.6 L2029.8 1150.2 L2034.7 1144.7 L2039.4 1139.1 L2043.8 1133.4 L2048.0 1127.7 L2052.1 1121.8 L2056.1 1115.9 L2060.0 1109.7 L2064.0 1103.4 L2068.1 1097.1 L2072.2 1090.7 L2076.5 1084.4 L2081.0 1078.1 L2085.5 1072.1 L2090.2 1066.2 L2095.1 1060.5 L2100.1 1055.1 L2105.3 1049.9 L2110.6 1044.9 L2116.2 1040.1 L2122.0 1035.6 L2128.0 1031.4 L2134.3 1027.5 L2140.9 1023.9 L2147.6 1020.7 L2154.5 1017.9 L2161.5 1015.4 L2168.6 1013.3 L2175.8 1011.5 L2182.9 1010.0 L2190.1 1008.7 L2197.3 1007.6 L2204.7 1006.7 L2212.1 1006.0 L2219.6 1005.4 L2227.2 1005.0 L2234.9 1004.6 L2242.6 1004.3 L2250.3 1004.1 L2258.0 1003.9 L2265.7 1003.7 L2273.3 1003.6 L2281.0 1003.5 L2288.6 1003.4 L2296.3 1003.3 L2303.9 1003.3 L2311.6 1003.2 L2319.3 1003.2 L2327.0 1003.2 L2334.7 1003.1 L2342.4 1003.1 L2350.1 1003.1 L2357.7 1003.1 L2365.3 1003.1 L2372.7 1003.1 L2379.8 1003.0 L2386.3 1003.0 L2391.9 1003.0 L2404.0 1003.0" fill="none" stroke="#141414" stroke-width="5.5" stroke-linejoin="round"/>
<path d="M1400.5 1339.6 L1412.7 1337.4 L1418.3 1336.3 L1424.8 1335.1 L1431.9 1333.8 L1439.3 1332.4 L1447.0 1331.0 L1454.6 1329.6 L1462.4 1328.2 L1470.1 1326.7 L1477.8 1325.3 L1485.5 1323.9 L1493.2 1322.4 L1500.9 1321.0 L1508.6 1319.5 L1516.2 1318.0 L1523.8 1316.5 L1531.4 1315.0 L1539.0 1313.5 L1546.6 1312.0 L1554.2 1310.5 L1561.7 1309.0 L1569.3 1307.5 L1576.9 1306.0 L1584.5 1304.5 L1592.1 1303.0 L1599.7 1301.5 L1607.4 1300.1 L1615.1 1298.7 L1622.8 1297.4 L1630.6 1296.1 L1638.4 1294.9 L1646.2 1293.7 L1654.1 1292.5 L1661.9 1291.3 L1669.8 1290.1 L1677.6 1289.0 L1685.4 1287.8 L1693.3 1286.6 L1701.1 1285.4 L1708.9 1284.2 L1716.7 1282.9 L1724.4 1281.6 L1732.1 1280.2 L1739.8 1278.8 L1747.4 1277.3 L1755.0 1275.8 L1762.6 1274.3 L1770.2 1272.8 L1777.8 1271.3 L1785.3 1269.8 L1792.9 1268.2 L1800.5 1266.7 L1808.1 1265.2 L1815.6 1263.7 L1823.2 1262.1 L1830.8 1260.6 L1838.4 1259.0 L1845.9 1257.4 L1853.5 1255.8 L1861.0 1254.1 L1868.5 1252.5 L1876.0 1250.9 L1883.4 1249.3 L1890.8 1247.7 L1898.1 1246.1 L1905.5 1244.4 L1912.8 1242.6 L1920.1 1240.8 L1927.4 1238.8 L1934.8 1236.6 L1942.1 1234.2 L1949.3 1231.5 L1956.4 1228.6 L1963.4 1225.4 L1970.1 1221.9 L1976.6 1218.2 L1982.7 1214.2 L1988.4 1209.9 L1993.8 1205.4 L1999.0 1200.6 L2003.8 1195.6 L2008.4 1190.3 L2012.8 1184.9 L2017.0 1179.3 L2021.1 1173.4 L2025.1 1167.3 L2029.0 1161.0 L2032.9 1154.6 L2036.8 1148.1 L2040.6 1141.6 L2044.4 1135.1 L2048.2 1128.7 L2052.0 1122.3 L2055.9 1116.0 L2059.8 1109.7 L2063.8 1103.4 L2067.9 1097.0 L2072.1 1090.7 L2076.4 1084.3 L2080.9 1078.1 L2085.5 1072.1 L2090.2 1066.2 L2095.1 1060.5 L2100.1 1055.1 L2105.3 1049.9 L2110.6 1044.9 L2116.2 1040.1 L2122.0 1035.6 L2128.0 1031.4 L2134.3 1027.5 L2140.9 1023.9 L2147.6 1020.7 L2154.5 1017.9 L2161.5 1015.4 L2168.6 1013.3 L2175.8 1011.5 L2182.9 1010.0 L2190.1 1008.7 L2197.3 1007.6 L2204.7 1006.7 L2212.1 1006.0 L2219.6 1005.4 L2227.2 1005.0 L2234.9 1004.6 L2242.6 1004.3 L2250.3 1004.1 L2258.0 1003.9 L2265.7 1003.7 L2273.3 1003.6 L2281.0 1003.5 L2288.6 1003.4 L2296.3 1003.3 L2303.9 1003.3 L2311.6 1003.2 L2319.3 1003.2 L2327.0 1003.2 L2334.7 1003.1 L2342.4 1003.1 L2350.1 1003.1 L2357.7 1003.1 L2365.3 1003.1 L2372.7 1003.1 L2379.8 1003.0 L2386.3 1003.0 L2391.9 1003.0 L2404.0 1003.0" fill="none" stroke="#e3202b" stroke-width="5" stroke-linejoin="round"/>
<path d="M1400.5 1394.5 L1412.7 1391.6 L1418.3 1390.3 L1424.8 1388.8 L1431.9 1387.1 L1439.3 1385.3 L1447.0 1383.5 L1454.6 1381.7 L1462.4 1379.9 L1470.1 1378.0 L1477.8 1376.2 L1485.5 1374.4 L1493.2 1372.7 L1500.9 1371.0 L1508.6 1369.3 L1516.2 1367.7 L1523.8 1366.1 L1531.4 1364.5 L1539.0 1363.0 L1546.6 1361.5 L1554.2 1359.9 L1561.7 1358.4 L1569.3 1356.9 L1576.9 1355.4 L1584.5 1353.9 L1592.1 1352.4 L1599.6 1350.8 L1607.2 1349.3 L1614.8 1347.8 L1622.4 1346.3 L1630.0 1344.8 L1637.5 1343.2 L1645.1 1341.7 L1652.7 1340.2 L1660.3 1338.7 L1667.9 1337.2 L1675.4 1335.7 L1683.0 1334.1 L1690.6 1332.6 L1698.2 1331.1 L1705.8 1329.6 L1713.3 1328.1 L1720.9 1326.6 L1728.5 1325.0 L1736.1 1323.5 L1743.6 1322.0 L1751.2 1320.5 L1758.8 1319.0 L1766.4 1317.5 L1774.0 1315.9 L1781.5 1314.4 L1789.1 1312.9 L1796.7 1311.4 L1804.3 1309.8 L1811.9 1308.2 L1819.4 1306.6 L1827.0 1304.9 L1834.6 1303.0 L1842.2 1301.0 L1849.7 1299.0 L1857.3 1296.8 L1864.8 1294.5 L1872.3 1292.2 L1879.7 1289.8 L1887.1 1287.4 L1894.4 1285.0 L1901.7 1282.5 L1909.0 1280.0 L1916.2 1277.3 L1923.3 1274.6 L1930.4 1271.6 L1937.3 1268.5 L1944.0 1265.1 L1950.5 1261.4 L1956.8 1257.4 L1962.8 1253.2 L1968.4 1248.6 L1973.8 1243.8 L1978.9 1238.7 L1983.8 1233.3 L1988.4 1227.7 L1992.9 1221.9 L1997.2 1216.0 L2001.4 1210.0 L2005.5 1203.8 L2009.5 1197.6 L2013.4 1191.3 L2017.3 1184.8 L2021.1 1178.3 L2024.9 1171.8 L2028.7 1165.1 L2032.4 1158.5 L2036.2 1151.8 L2039.9 1145.2 L2043.6 1138.6 L2047.2 1132.0 L2050.9 1125.6 L2054.5 1119.2 L2058.3 1112.9 L2062.0 1106.6 L2066.0 1100.2 L2070.0 1093.8 L2074.3 1087.5 L2078.6 1081.2 L2083.2 1075.1 L2087.8 1069.1 L2092.6 1063.3 L2097.6 1057.8 L2102.7 1052.5 L2107.9 1047.4 L2113.4 1042.5 L2119.1 1037.8 L2125.0 1033.5 L2131.2 1029.4 L2137.6 1025.7 L2144.2 1022.3 L2151.0 1019.2 L2158.0 1016.6 L2165.1 1014.3 L2172.2 1012.3 L2179.3 1010.7 L2186.5 1009.3 L2193.7 1008.1 L2201.0 1007.1 L2208.3 1006.3 L2215.8 1005.7 L2223.4 1005.2 L2231.0 1004.8 L2238.7 1004.5 L2246.4 1004.2 L2254.1 1004.0 L2261.8 1003.8 L2269.5 1003.7 L2277.1 1003.5 L2284.8 1003.4 L2292.4 1003.4 L2300.1 1003.3 L2307.8 1003.2 L2315.4 1003.2 L2323.1 1003.2 L2330.8 1003.1 L2338.5 1003.1 L2346.2 1003.1 L2353.9 1003.1 L2361.5 1003.1 L2369.1 1003.1 L2376.3 1003.1 L2383.2 1003.0 L2389.2 1003.0 L2394.3 1003.0 L2404.0 1003.0" fill="none" stroke="#6ab82e" stroke-width="5" stroke-linejoin="round"/>
<path d="M1400.5 1461.8 L1412.7 1459.1 L1418.3 1457.8 L1424.8 1456.4 L1431.9 1454.8 L1439.3 1453.1 L1447.0 1451.4 L1454.6 1449.7 L1462.4 1448.0 L1470.1 1446.3 L1477.8 1444.5 L1485.5 1442.8 L1493.2 1441.0 L1500.9 1439.2 L1508.6 1437.4 L1516.2 1435.6 L1523.8 1433.7 L1531.4 1431.8 L1539.0 1430.0 L1546.6 1428.1 L1554.2 1426.2 L1561.7 1424.3 L1569.3 1422.4 L1576.9 1420.5 L1584.5 1418.6 L1592.1 1416.7 L1599.6 1414.8 L1607.2 1412.9 L1614.8 1411.0 L1622.4 1409.1 L1630.0 1407.2 L1637.5 1405.3 L1645.1 1403.4 L1652.7 1401.5 L1660.3 1399.6 L1667.9 1397.7 L1675.4 1395.8 L1683.0 1393.9 L1690.6 1392.0 L1698.2 1390.1 L1705.8 1388.2 L1713.3 1386.3 L1720.9 1384.3 L1728.5 1382.3 L1736.1 1380.3 L1743.6 1378.3 L1751.2 1376.2 L1758.8 1374.1 L1766.4 1372.0 L1774.0 1370.0 L1781.5 1367.9 L1789.1 1365.8 L1796.7 1363.7 L1804.2 1361.6 L1811.8 1359.4 L1819.3 1357.2 L1826.7 1354.8 L1834.0 1352.3 L1841.2 1349.6 L1848.4 1346.8 L1855.5 1343.8 L1862.6 1340.8 L1869.6 1337.8 L1876.7 1334.9 L1883.8 1331.9 L1891.0 1329.0 L1898.1 1326.2 L1905.2 1323.2 L1912.1 1320.2 L1918.9 1317.0 L1925.5 1313.5 L1931.9 1309.8 L1938.1 1305.7 L1944.0 1301.4 L1949.7 1296.6 L1955.2 1291.5 L1960.4 1286.2 L1965.3 1280.5 L1970.0 1274.7 L1974.5 1268.6 L1978.7 1262.4 L1982.9 1256.0 L1986.9 1249.6 L1990.8 1243.1 L1994.6 1236.5 L1998.4 1229.9 L2002.2 1223.3 L2005.8 1216.8 L2009.4 1210.3 L2013.0 1203.8 L2016.4 1197.4 L2019.9 1190.9 L2023.3 1184.5 L2026.7 1177.9 L2030.1 1171.3 L2033.5 1164.7 L2036.9 1158.0 L2040.3 1151.3 L2043.6 1144.6 L2046.9 1137.9 L2050.3 1131.1 L2053.6 1124.3 L2057.0 1117.5 L2060.6 1110.8 L2064.2 1104.1 L2068.1 1097.4 L2072.2 1090.9 L2076.5 1084.4 L2080.9 1078.2 L2085.5 1072.1 L2090.2 1066.2 L2095.1 1060.5 L2100.1 1055.1 L2105.3 1049.9 L2110.6 1044.9 L2116.2 1040.1 L2122.0 1035.6 L2128.0 1031.4 L2134.3 1027.5 L2140.9 1023.9 L2147.6 1020.7 L2154.5 1017.9 L2161.5 1015.4 L2168.6 1013.3 L2175.8 1011.5 L2182.9 1010.0 L2190.1 1008.7 L2197.3 1007.6 L2204.7 1006.7 L2212.1 1006.0 L2219.6 1005.4 L2227.2 1005.0 L2234.9 1004.6 L2242.6 1004.3 L2250.3 1004.1 L2258.0 1003.9 L2265.7 1003.7 L2273.3 1003.6 L2281.0 1003.5 L2288.6 1003.4 L2296.3 1003.3 L2303.9 1003.3 L2311.6 1003.2 L2319.3 1003.2 L2327.0 1003.2 L2334.7 1003.1 L2342.4 1003.1 L2350.1 1003.1 L2357.7 1003.1 L2365.3 1003.1 L2372.7 1003.1 L2379.8 1003.0 L2386.3 1003.0 L2391.9 1003.0 L2404.0 1003.0" fill="none" stroke="#27509f" stroke-width="5" stroke-linejoin="round"/>
<path d="M1400.5 1515.4 L1412.7 1512.5 L1418.3 1511.2 L1424.8 1509.7 L1431.9 1508.0 L1439.3 1506.2 L1447.0 1504.4 L1454.6 1502.6 L1462.4 1500.8 L1470.1 1498.9 L1477.8 1497.1 L1485.5 1495.3 L1493.2 1493.4 L1500.9 1491.6 L1508.6 1489.7 L1516.2 1487.8 L1523.8 1485.9 L1531.4 1484.1 L1539.0 1482.2 L1546.6 1480.3 L1554.2 1478.4 L1561.7 1476.5 L1569.3 1474.6 L1576.9 1472.7 L1584.5 1470.8 L1592.1 1468.8 L1599.6 1466.9 L1607.2 1464.9 L1614.8 1462.8 L1622.4 1460.7 L1630.0 1458.5 L1637.5 1456.3 L1645.1 1454.1 L1652.7 1451.8 L1660.3 1449.5 L1667.9 1447.3 L1675.4 1445.0 L1683.0 1442.7 L1690.6 1440.4 L1698.2 1438.2 L1705.8 1435.9 L1713.3 1433.6 L1720.9 1431.3 L1728.5 1429.1 L1736.1 1426.8 L1743.6 1424.5 L1751.2 1422.3 L1758.8 1420.0 L1766.4 1417.7 L1774.0 1415.5 L1781.5 1413.2 L1789.1 1410.9 L1796.7 1408.6 L1804.2 1406.3 L1811.8 1403.9 L1819.3 1401.4 L1826.7 1398.8 L1834.0 1396.0 L1841.2 1393.0 L1848.4 1389.7 L1855.4 1386.3 L1862.4 1382.7 L1869.4 1379.0 L1876.3 1375.2 L1883.1 1371.3 L1889.8 1367.2 L1896.5 1363.0 L1903.1 1358.7 L1909.5 1354.3 L1915.8 1349.8 L1921.9 1345.2 L1927.8 1340.5 L1933.4 1335.5 L1938.9 1330.4 L1944.1 1325.0 L1949.1 1319.4 L1954.0 1313.6 L1958.7 1307.6 L1963.2 1301.5 L1967.5 1295.3 L1971.7 1289.0 L1975.8 1282.6 L1979.8 1276.2 L1983.7 1269.6 L1987.5 1263.1 L1991.1 1256.5 L1994.7 1249.8 L1998.1 1243.2 L2001.5 1236.5 L2004.9 1229.9 L2008.2 1223.2 L2011.5 1216.6 L2014.8 1210.0 L2018.1 1203.4 L2021.3 1196.8 L2024.5 1190.3 L2027.7 1183.7 L2030.9 1177.1 L2034.1 1170.5 L2037.3 1163.7 L2040.4 1157.0 L2043.5 1150.2 L2046.6 1143.4 L2049.6 1136.7 L2052.5 1130.0 L2055.4 1123.4 L2058.4 1116.8 L2061.5 1110.2 L2064.8 1103.7 L2068.5 1097.2 L2072.4 1090.8 L2076.5 1084.4 L2080.9 1078.1 L2085.5 1072.1 L2090.2 1066.2 L2095.1 1060.5 L2100.1 1055.1 L2105.3 1049.9 L2110.6 1044.9 L2116.2 1040.1 L2122.0 1035.6 L2128.0 1031.4 L2134.3 1027.5 L2140.9 1023.9 L2147.6 1020.7 L2154.5 1017.9 L2161.5 1015.4 L2168.6 1013.3 L2175.8 1011.5 L2182.9 1010.0 L2190.1 1008.7 L2197.3 1007.6 L2204.7 1006.7 L2212.1 1006.0 L2219.6 1005.4 L2227.2 1005.0 L2234.9 1004.6 L2242.6 1004.3 L2250.3 1004.1 L2258.0 1003.9 L2265.7 1003.7 L2273.3 1003.6 L2281.0 1003.5 L2288.6 1003.4 L2296.3 1003.3 L2303.9 1003.3 L2311.6 1003.2 L2319.3 1003.2 L2327.0 1003.2 L2334.7 1003.1 L2342.4 1003.1 L2350.1 1003.1 L2357.7 1003.1 L2365.3 1003.1 L2372.7 1003.1 L2379.8 1003.0 L2386.3 1003.0 L2391.9 1003.0 L2404.0 1003.0" fill="none" stroke="#5ec9c4" stroke-width="5" stroke-linejoin="round"/>
<path d="M1400.5 1567.6 L1412.7 1564.4 L1418.3 1562.9 L1424.8 1561.2 L1431.9 1559.3 L1439.3 1557.4 L1447.0 1555.4 L1454.6 1553.3 L1462.4 1551.3 L1470.1 1549.3 L1477.8 1547.2 L1485.5 1545.1 L1493.2 1543.1 L1500.9 1540.9 L1508.6 1538.8 L1516.2 1536.6 L1523.8 1534.4 L1531.4 1532.1 L1539.0 1529.9 L1546.6 1527.6 L1554.2 1525.3 L1561.7 1523.0 L1569.3 1520.8 L1576.9 1518.5 L1584.5 1516.2 L1592.1 1513.9 L1599.6 1511.6 L1607.2 1509.3 L1614.8 1506.9 L1622.4 1504.5 L1630.0 1502.1 L1637.5 1499.7 L1645.1 1497.2 L1652.7 1494.8 L1660.3 1492.3 L1667.9 1489.9 L1675.4 1487.4 L1683.0 1484.9 L1690.6 1482.5 L1698.2 1480.0 L1705.7 1477.5 L1713.3 1475.0 L1720.8 1472.4 L1728.4 1469.8 L1735.9 1467.2 L1743.4 1464.5 L1750.9 1461.8 L1758.4 1459.0 L1765.9 1456.3 L1773.4 1453.5 L1780.8 1450.7 L1788.2 1447.9 L1795.6 1445.0 L1802.9 1442.0 L1810.1 1439.0 L1817.2 1435.8 L1824.1 1432.5 L1831.1 1429.1 L1837.9 1425.6 L1844.7 1422.1 L1851.4 1418.5 L1858.0 1414.7 L1864.4 1410.8 L1870.7 1406.7 L1876.8 1402.5 L1882.8 1398.1 L1888.7 1393.5 L1894.5 1388.8 L1900.2 1384.0 L1905.8 1379.0 L1911.3 1373.9 L1916.7 1368.8 L1922.0 1363.5 L1927.2 1358.2 L1932.2 1352.9 L1937.1 1347.4 L1941.8 1341.7 L1946.4 1336.0 L1950.8 1330.0 L1955.0 1324.0 L1959.1 1317.8 L1963.1 1311.6 L1966.9 1305.3 L1970.7 1299.1 L1974.3 1292.8 L1977.9 1286.5 L1981.4 1280.2 L1984.8 1273.9 L1988.2 1267.5 L1991.6 1261.1 L1994.9 1254.6 L1998.3 1248.0 L2001.6 1241.5 L2004.9 1234.8 L2008.2 1228.2 L2011.6 1221.5 L2014.8 1214.9 L2018.1 1208.3 L2021.3 1201.6 L2024.4 1195.0 L2027.5 1188.3 L2030.6 1181.6 L2033.7 1174.8 L2036.8 1167.9 L2039.9 1160.9 L2043.0 1153.9 L2046.0 1146.9 L2049.0 1140.0 L2051.9 1133.1 L2054.7 1126.3 L2057.5 1119.7 L2060.4 1113.2 L2063.5 1106.7 L2066.8 1100.3 L2070.5 1093.9 L2074.5 1087.5 L2078.7 1081.2 L2083.2 1075.1 L2087.9 1069.1 L2092.6 1063.3 L2097.6 1057.8 L2102.7 1052.5 L2107.9 1047.4 L2113.4 1042.5 L2119.1 1037.8 L2125.0 1033.5 L2131.2 1029.4 L2137.6 1025.7 L2144.2 1022.3 L2151.0 1019.2 L2158.0 1016.6 L2165.1 1014.3 L2172.2 1012.3 L2179.3 1010.7 L2186.5 1009.3 L2193.7 1008.1 L2201.0 1007.1 L2208.3 1006.3 L2215.8 1005.7 L2223.4 1005.2 L2231.0 1004.8 L2238.7 1004.5 L2246.4 1004.2 L2254.1 1004.0 L2261.8 1003.8 L2269.5 1003.7 L2277.1 1003.5 L2284.8 1003.4 L2292.4 1003.4 L2300.1 1003.3 L2307.8 1003.2 L2315.4 1003.2 L2323.1 1003.2 L2330.8 1003.1 L2338.5 1003.1 L2346.2 1003.1 L2353.9 1003.1 L2361.5 1003.1 L2369.1 1003.1 L2376.3 1003.1 L2383.2 1003.0 L2389.2 1003.0 L2394.3 1003.0 L2404.0 1003.0" fill="none" stroke="#a8569a" stroke-width="5" stroke-linejoin="round"/>
<path d="M1400.5 1615.7 L1422.5 1615.7 L1424.0 1609.0 L1447.2 1607.4 L1449.0 1602.0 L1460.0 1598.5 L1465.0 1596.9 L1470.9 1595.0 L1477.3 1592.9 L1484.1 1590.7 L1491.0 1588.4 L1498.1 1586.0 L1505.2 1583.6 L1512.4 1581.1 L1519.7 1578.5 L1526.9 1575.8 L1534.2 1573.1 L1541.5 1570.4 L1548.9 1567.6 L1556.2 1564.9 L1563.5 1562.1 L1570.8 1559.4 L1578.2 1556.6 L1585.5 1553.9 L1592.9 1551.2 L1600.2 1548.5 L1607.6 1545.9 L1615.1 1543.4 L1622.5 1540.9 L1630.0 1538.5 L1637.6 1536.1 L1645.1 1533.8 L1652.7 1531.5 L1660.3 1529.2 L1667.9 1527.0 L1675.4 1524.7 L1683.0 1522.4 L1690.6 1520.1 L1698.2 1517.8 L1705.7 1515.5 L1713.3 1513.1 L1720.8 1510.7 L1728.4 1508.2 L1735.9 1505.6 L1743.4 1502.9 L1750.9 1500.2 L1758.4 1497.5 L1765.9 1494.8 L1773.4 1492.0 L1780.8 1489.2 L1788.2 1486.4 L1795.6 1483.5 L1802.9 1480.5 L1810.1 1477.5 L1817.2 1474.3 L1824.2 1471.0 L1831.1 1467.6 L1838.0 1464.1 L1844.8 1460.6 L1851.7 1456.9 L1858.4 1453.1 L1865.1 1449.2 L1871.8 1445.0 L1878.3 1440.6 L1884.7 1436.1 L1890.9 1431.3 L1896.9 1426.2 L1902.8 1421.0 L1908.4 1415.5 L1913.9 1409.9 L1919.1 1404.1 L1924.1 1398.1 L1928.8 1392.1 L1933.3 1385.9 L1937.6 1379.7 L1941.7 1373.5 L1945.5 1367.1 L1949.3 1360.8 L1952.9 1354.3 L1956.4 1347.8 L1959.9 1341.2 L1963.3 1334.5 L1966.6 1327.8 L1970.0 1321.0 L1973.3 1314.1 L1976.5 1307.3 L1979.8 1300.4 L1982.9 1293.5 L1986.0 1286.7 L1989.1 1279.9 L1992.1 1273.2 L1995.1 1266.5 L1998.1 1259.9 L2001.0 1253.2 L2004.0 1246.5 L2006.9 1239.9 L2009.9 1233.2 L2012.9 1226.5 L2015.8 1219.9 L2018.8 1213.2 L2021.7 1206.5 L2024.7 1199.9 L2027.7 1193.2 L2030.6 1186.6 L2033.6 1179.9 L2036.6 1173.3 L2039.5 1166.6 L2042.4 1159.9 L2045.3 1153.2 L2048.1 1146.4 L2050.9 1139.6 L2053.7 1132.7 L2056.5 1125.8 L2059.4 1118.9 L2062.5 1112.0 L2065.7 1105.1 L2069.2 1098.2 L2073.0 1091.4 L2076.9 1084.8 L2081.2 1078.4 L2085.6 1072.2 L2090.3 1066.3 L2095.1 1060.6 L2100.1 1055.1 L2105.3 1049.9 L2110.6 1044.9 L2116.2 1040.1 L2122.0 1035.6 L2128.0 1031.4 L2134.3 1027.5 L2140.9 1023.9 L2147.6 1020.7 L2154.5 1017.9 L2161.5 1015.4 L2168.6 1013.3 L2175.8 1011.5 L2182.9 1010.0 L2190.1 1008.7 L2197.3 1007.6 L2204.7 1006.7 L2212.1 1006.0 L2219.6 1005.4 L2227.2 1005.0 L2234.9 1004.6 L2242.6 1004.3 L2250.3 1004.1 L2258.0 1003.9 L2265.7 1003.7 L2273.3 1003.6 L2281.0 1003.5 L2288.6 1003.4 L2296.3 1003.3 L2303.9 1003.3 L2311.6 1003.2 L2319.3 1003.2 L2327.0 1003.2 L2334.7 1003.1 L2342.4 1003.1 L2350.1 1003.1 L2357.7 1003.1 L2365.3 1003.1 L2372.7 1003.1 L2379.8 1003.0 L2386.3 1003.0 L2391.9 1003.0 L2404.0 1003.0" fill="none" stroke="#5a4aa6" stroke-width="5" stroke-linejoin="round"/>
<rect x="1398.5" y="943" width="1005.5" height="743" fill="none" stroke="#000" stroke-width="6"/>
<line x1="1398.5" y1="1686" x2="1398.5" y2="1696" stroke="#000" stroke-width="5" stroke-linecap="butt"/>
<line x1="1542.1" y1="1686" x2="1542.1" y2="1702.5" stroke="#000" stroke-width="5" stroke-linecap="butt"/>
<line x1="1685.8" y1="1686" x2="1685.8" y2="1696" stroke="#000" stroke-width="5" stroke-linecap="butt"/>
<line x1="1829.4" y1="1686" x2="1829.4" y2="1702.5" stroke="#000" stroke-width="5" stroke-linecap="butt"/>
<line x1="1973.1" y1="1686" x2="1973.1" y2="1696" stroke="#000" stroke-width="5" stroke-linecap="butt"/>
<line x1="2116.7" y1="1686" x2="2116.7" y2="1702.5" stroke="#000" stroke-width="5" stroke-linecap="butt"/>
<line x1="2260.3" y1="1686" x2="2260.3" y2="1696" stroke="#000" stroke-width="5" stroke-linecap="butt"/>
<line x1="2404" y1="1686" x2="2404" y2="1702.5" stroke="#000" stroke-width="5" stroke-linecap="butt"/>
<line x1="1388.5" y1="1651.7" x2="1398.5" y2="1651.7" stroke="#000" stroke-width="5" stroke-linecap="butt"/>
<line x1="1381.5" y1="1592.5" x2="1398.5" y2="1592.5" stroke="#000" stroke-width="5" stroke-linecap="butt"/>
<line x1="1388.5" y1="1533.3" x2="1398.5" y2="1533.3" stroke="#000" stroke-width="5" stroke-linecap="butt"/>
<line x1="1381.5" y1="1474.2" x2="1398.5" y2="1474.2" stroke="#000" stroke-width="5" stroke-linecap="butt"/>
<line x1="1388.5" y1="1415" x2="1398.5" y2="1415" stroke="#000" stroke-width="5" stroke-linecap="butt"/>
<line x1="1381.5" y1="1355.9" x2="1398.5" y2="1355.9" stroke="#000" stroke-width="5" stroke-linecap="butt"/>
<line x1="1388.5" y1="1296.8" x2="1398.5" y2="1296.8" stroke="#000" stroke-width="5" stroke-linecap="butt"/>
<line x1="1381.5" y1="1237.6" x2="1398.5" y2="1237.6" stroke="#000" stroke-width="5" stroke-linecap="butt"/>
<line x1="1388.5" y1="1178.5" x2="1398.5" y2="1178.5" stroke="#000" stroke-width="5" stroke-linecap="butt"/>
<line x1="1381.5" y1="1119.3" x2="1398.5" y2="1119.3" stroke="#000" stroke-width="5" stroke-linecap="butt"/>
<line x1="1388.5" y1="1060.2" x2="1398.5" y2="1060.2" stroke="#000" stroke-width="5" stroke-linecap="butt"/>
<line x1="1381.5" y1="1001" x2="1398.5" y2="1001" stroke="#000" stroke-width="5" stroke-linecap="butt"/>
<line x1="1388.5" y1="941.9" x2="1398.5" y2="941.9" stroke="#000" stroke-width="5" stroke-linecap="butt"/>
<text x="1323.2" y="1609.5" font-size="67" letter-spacing="-4.00">-5</text>
<text x="1323.2" y="1491.2" font-size="67" letter-spacing="-4.00">-4</text>
<text x="1323.2" y="1372.9" font-size="67" letter-spacing="-4.00">-3</text>
<text x="1323.2" y="1254.6" font-size="67" letter-spacing="-4.00">-2</text>
<text x="1323.2" y="1136.3" font-size="67" letter-spacing="-4.00">-1</text>
<text x="1341.5" y="1018" font-size="67" letter-spacing="-4.00">0</text>
<text x="1504.7" y="1756" font-size="67" letter-spacing="-4.00">0.4</text>
<text x="1792.5" y="1756" font-size="67" letter-spacing="-4.00">0.6</text>
<text x="2080" y="1756" font-size="67" letter-spacing="-4.00">0.8</text>
<text x="2365.6" y="1756" font-size="67" letter-spacing="-4.00">1.0</text>
<line x1="2063.2" y1="1166.6" x2="2149.5" y2="1166.6" stroke="#141414" stroke-width="5" stroke-linecap="butt"/>
<text x="2156.9" y="1179.4" font-size="57" letter-spacing="-2.30">400 rpm</text>
<line x1="2063.2" y1="1232.4" x2="2149.5" y2="1232.4" stroke="#e3202b" stroke-width="5" stroke-linecap="butt"/>
<text x="2156.9" y="1245.2" font-size="57" letter-spacing="-2.30">625 rpm</text>
<line x1="2063.2" y1="1298.3" x2="2149.5" y2="1298.3" stroke="#6ab82e" stroke-width="5" stroke-linecap="butt"/>
<text x="2156.9" y="1311.1" font-size="57" letter-spacing="-2.30">900 rpm</text>
<line x1="2063.2" y1="1364.1" x2="2149.5" y2="1364.1" stroke="#27509f" stroke-width="5" stroke-linecap="butt"/>
<text x="2156.9" y="1376.9" font-size="57" letter-spacing="-2.30">1225 rpm</text>
<line x1="2063.2" y1="1430" x2="2149.5" y2="1430" stroke="#5ec9c4" stroke-width="5" stroke-linecap="butt"/>
<text x="2156.9" y="1442.8" font-size="57" letter-spacing="-2.30">1600 rpm</text>
<line x1="2063.2" y1="1494.3" x2="2149.5" y2="1494.3" stroke="#a8569a" stroke-width="5" stroke-linecap="butt"/>
<text x="2156.9" y="1507.1" font-size="57" letter-spacing="-2.30">2025 rpm</text>
<line x1="2063.2" y1="1560.1" x2="2149.5" y2="1560.1" stroke="#5a4aa6" stroke-width="5" stroke-linecap="butt"/>
<text x="2156.9" y="1572.9" font-size="57" letter-spacing="-2.30">2500 rpm</text>
<text transform="translate(1428.6 1192.4) scale(0.930 1)" font-size="75.6" letter-spacing="-2.84">CS</text>
<text transform="translate(1508 1215.7) scale(0.930 1)" font-size="47.6" letter-spacing="-3.02">18-650</text>
<text transform="translate(1420.2 1047.9) scale(1.019 1)" font-size="131.1" letter-spacing="0.00">d</text>
<text transform="translate(1669.9 1808.7) scale(0.930 1)" font-size="67.3" letter-spacing="-1.53">Potential (V vs. RHE)</text>
<text transform="translate(1309.2 990.5) rotate(-90) scale(1.156 1)" font-size="63.2" letter-spacing="0.00">)</text>
<text transform="translate(1290.8 1014.3) rotate(-90) scale(0.930 1)" font-size="40.6" letter-spacing="-5.22">-2</text>
<text transform="translate(1308.7 1626.3) rotate(-90) scale(0.930 1)" font-size="64.6" letter-spacing="0.87">Current Density (mA cm</text>
<path d="M190.5 2368.5 L202.5 2365.3 L208.1 2363.9 L214.5 2362.2 L221.5 2360.4 L228.9 2358.4 L236.4 2356.4 L244.0 2354.4 L251.7 2352.4 L259.3 2350.4 L266.9 2348.4 L274.6 2346.4 L282.2 2344.4 L289.7 2342.3 L297.3 2340.3 L304.8 2338.2 L312.3 2336.2 L319.8 2334.1 L327.3 2332.1 L334.8 2330.0 L342.3 2328.0 L349.7 2325.9 L357.2 2323.8 L364.7 2321.7 L372.1 2319.5 L379.6 2317.3 L386.9 2315.0 L394.3 2312.6 L401.6 2310.1 L408.8 2307.6 L416.1 2305.0 L423.3 2302.4 L430.5 2299.7 L437.7 2297.1 L445.0 2294.4 L452.2 2291.8 L459.4 2289.2 L466.6 2286.6 L473.8 2284.1 L481.0 2281.5 L488.3 2279.0 L495.5 2276.4 L502.7 2273.9 L509.9 2271.4 L517.1 2268.8 L524.3 2266.2 L531.4 2263.6 L538.4 2260.9 L545.5 2258.1 L552.4 2255.2 L559.3 2252.2 L566.2 2249.2 L573.0 2246.0 L579.8 2242.7 L586.5 2239.2 L593.2 2235.5 L599.8 2231.7 L606.3 2227.7 L612.7 2223.6 L618.8 2219.3 L624.7 2214.8 L630.3 2210.2 L635.7 2205.3 L640.8 2200.1 L645.7 2194.7 L650.4 2189.2 L654.9 2183.5 L659.2 2177.6 L663.4 2171.7 L667.5 2165.6 L671.4 2159.3 L675.2 2152.9 L678.9 2146.5 L682.4 2139.9 L685.9 2133.3 L689.1 2126.7 L692.3 2120.0 L695.4 2113.4 L698.5 2106.9 L701.5 2100.3 L704.6 2093.8 L707.7 2087.3 L710.8 2080.7 L713.8 2074.1 L716.9 2067.4 L720.0 2060.6 L723.1 2053.7 L726.2 2046.7 L729.3 2039.7 L732.4 2032.7 L735.5 2025.7 L738.7 2018.7 L741.9 2011.8 L745.2 2004.9 L748.5 1998.1 L752.0 1991.4 L755.6 1984.8 L759.2 1978.3 L763.0 1972.0 L766.9 1965.8 L770.9 1959.7 L775.0 1953.8 L779.4 1948.0 L783.9 1942.4 L788.6 1936.9 L793.6 1931.7 L798.8 1926.7 L804.2 1922.0 L809.9 1917.5 L815.8 1913.5 L821.8 1909.8 L828.0 1906.5 L834.4 1903.6 L840.9 1901.0 L847.6 1898.7 L854.5 1896.8 L861.6 1895.2 L868.9 1893.8 L876.4 1892.7 L883.9 1891.8 L891.5 1891.1 L899.1 1890.5 L906.8 1890.0 L914.4 1889.7 L922.0 1889.4 L929.6 1889.1 L937.2 1888.9 L944.9 1888.7 L952.5 1888.6 L960.2 1888.4 L967.9 1888.2 L975.7 1888.1 L983.5 1888.0 L991.3 1887.9 L999.1 1887.7 L1006.9 1887.6 L1014.7 1887.5 L1022.5 1887.4 L1030.3 1887.3 L1038.1 1887.2 L1045.9 1887.1 L1053.7 1887.0 L1061.5 1886.8 L1069.3 1886.7 L1077.1 1886.6 L1084.9 1886.5 L1092.7 1886.4 L1100.4 1886.3 L1108.1 1886.2 L1115.8 1886.1 L1123.5 1886.0 L1131.0 1885.9 L1138.3 1885.8 L1145.1 1885.8 L1151.2 1885.7 L1156.3 1885.6 L1166.0 1885.5" fill="none" stroke="#6ab82e" stroke-width="5" stroke-linejoin="round"/>
<path d="M190.5 2305.5 L203.0 2304.7 L208.8 2304.3 L215.5 2303.9 L222.8 2303.4 L230.5 2302.9 L238.4 2302.4 L246.3 2301.8 L254.2 2301.3 L262.2 2300.9 L270.1 2300.4 L278.0 2300.1 L285.9 2299.8 L293.8 2299.6 L301.6 2299.6 L309.4 2299.6 L317.2 2299.6 L325.0 2299.7 L332.8 2299.8 L340.5 2299.8 L348.3 2299.9 L356.1 2300.0 L363.9 2300.1 L371.6 2300.1 L379.4 2300.1 L387.2 2300.1 L395.0 2300.1 L402.7 2299.9 L410.5 2299.8 L418.2 2299.6 L426.0 2299.3 L433.7 2299.0 L441.3 2298.5 L449.0 2298.1 L456.6 2297.5 L464.2 2297.0 L471.8 2296.3 L479.4 2295.7 L487.0 2295.1 L494.5 2294.4 L502.1 2293.6 L509.7 2292.8 L517.3 2291.9 L524.9 2291.0 L532.5 2289.9 L540.0 2288.9 L547.6 2287.8 L555.2 2286.6 L562.8 2285.5 L570.4 2284.4 L578.0 2283.4 L585.6 2282.4 L593.2 2281.4 L600.8 2280.5 L608.4 2279.7 L616.0 2278.8 L623.5 2278.0 L631.0 2277.1 L638.4 2276.2 L645.9 2275.1 L653.3 2273.8 L660.7 2272.4 L668.0 2270.8 L675.4 2269.1 L682.7 2267.3 L690.0 2265.5 L697.2 2263.6 L704.4 2261.6 L711.5 2259.5 L718.5 2257.3 L725.5 2254.9 L732.2 2252.3 L738.8 2249.3 L745.1 2246.0 L751.1 2242.3 L756.9 2238.3 L762.4 2233.8 L767.6 2229.0 L772.6 2223.7 L777.3 2218.2 L781.8 2212.2 L786.2 2206.0 L790.3 2199.7 L794.4 2193.1 L798.3 2186.5 L802.1 2179.8 L805.9 2173.1 L809.6 2166.3 L813.3 2159.5 L817.0 2152.6 L820.7 2145.7 L824.3 2138.8 L827.8 2132.0 L831.3 2125.1 L834.7 2118.3 L838.1 2111.5 L841.4 2104.6 L844.8 2097.7 L848.1 2090.7 L851.4 2083.6 L854.8 2076.4 L858.2 2069.2 L861.6 2062.1 L865.1 2055.0 L868.8 2048.0 L872.5 2041.1 L876.2 2034.3 L880.1 2027.7 L883.9 2021.2 L887.9 2014.8 L891.9 2008.6 L895.9 2002.4 L900.1 1996.3 L904.4 1990.2 L908.7 1984.2 L913.0 1978.3 L917.4 1972.5 L921.8 1966.9 L926.3 1961.3 L930.8 1955.9 L935.3 1950.6 L940.1 1945.4 L945.0 1940.5 L950.2 1935.7 L955.6 1931.2 L961.3 1927.0 L967.3 1923.1 L973.6 1919.5 L980.0 1916.1 L986.6 1913.0 L993.4 1910.1 L1000.4 1907.5 L1007.5 1905.1 L1014.8 1902.9 L1022.2 1901.0 L1029.7 1899.2 L1037.3 1897.7 L1044.9 1896.4 L1052.7 1895.3 L1060.5 1894.4 L1068.3 1893.7 L1076.2 1893.1 L1084.1 1892.5 L1091.9 1892.0 L1099.8 1891.6 L1107.6 1891.3 L1115.4 1891.0 L1123.1 1890.7 L1130.7 1890.5 L1138.1 1890.3 L1145.0 1890.2 L1151.1 1890.0 L1156.2 1889.9 L1166.0 1889.7" fill="none" stroke="#27509f" stroke-width="5" stroke-linejoin="round"/>
<path d="M190.5 2393.0 L202.5 2391.8 L208.1 2391.3 L214.5 2390.7 L221.5 2390.0 L228.9 2389.3 L236.4 2388.6 L244.0 2387.8 L251.7 2387.1 L259.3 2386.4 L267.0 2385.6 L274.6 2384.9 L282.2 2384.1 L289.8 2383.4 L297.4 2382.7 L305.0 2381.9 L312.6 2381.1 L320.2 2380.4 L327.8 2379.6 L335.4 2378.9 L343.0 2378.2 L350.7 2377.5 L358.4 2377.0 L366.2 2376.4 L374.0 2376.0 L381.9 2375.6 L389.9 2375.3 L397.8 2375.0 L405.8 2374.8 L413.8 2374.5 L421.7 2374.3 L429.7 2374.2 L437.7 2374.1 L445.7 2374.1 L453.7 2374.1 L461.6 2374.2 L469.6 2374.3 L477.6 2374.4 L485.6 2374.5 L493.5 2374.5 L501.5 2374.5 L509.4 2374.4 L517.2 2374.1 L525.1 2373.8 L532.9 2373.3 L540.7 2372.6 L548.5 2371.8 L556.2 2370.7 L563.9 2369.3 L571.5 2367.5 L579.1 2365.4 L586.6 2363.1 L594.0 2360.4 L601.3 2357.4 L608.3 2354.2 L615.0 2350.6 L621.4 2346.7 L627.5 2342.6 L633.4 2338.1 L639.0 2333.3 L644.4 2328.3 L649.6 2322.9 L654.8 2317.3 L659.8 2311.5 L664.6 2305.5 L669.4 2299.5 L674.1 2293.3 L678.6 2287.1 L683.0 2280.7 L687.2 2274.3 L691.4 2267.8 L695.4 2261.3 L699.3 2254.6 L703.1 2247.8 L706.9 2241.0 L710.6 2234.1 L714.2 2227.2 L717.8 2220.4 L721.3 2213.5 L724.8 2206.8 L728.2 2200.0 L731.7 2193.3 L735.2 2186.6 L738.7 2180.0 L742.2 2173.3 L745.8 2166.6 L749.3 2160.0 L752.9 2153.3 L756.3 2146.6 L759.8 2139.9 L763.2 2133.2 L766.5 2126.5 L769.9 2119.7 L773.2 2112.8 L776.5 2105.9 L779.7 2099.0 L782.9 2092.1 L786.0 2085.2 L789.0 2078.3 L792.0 2071.4 L794.9 2064.5 L797.8 2057.6 L800.7 2050.6 L803.8 2043.6 L806.9 2036.6 L810.2 2029.6 L813.6 2022.6 L817.2 2015.6 L820.8 2008.8 L824.5 2002.0 L828.4 1995.3 L832.4 1988.7 L836.5 1982.2 L840.6 1975.7 L844.9 1969.4 L849.3 1963.2 L853.6 1957.2 L858.1 1951.3 L862.5 1945.7 L867.1 1940.2 L871.9 1934.9 L876.9 1929.8 L882.2 1924.9 L887.9 1920.3 L893.9 1916.1 L900.2 1912.2 L906.7 1908.7 L913.3 1905.7 L920.1 1903.1 L927.1 1900.9 L934.2 1899.0 L941.4 1897.5 L948.8 1896.2 L956.1 1895.1 L963.5 1894.2 L970.8 1893.5 L978.2 1892.8 L985.6 1892.2 L993.0 1891.7 L1000.4 1891.3 L1008.0 1891.0 L1015.6 1890.6 L1023.2 1890.4 L1030.9 1890.1 L1038.6 1889.9 L1046.4 1889.6 L1054.1 1889.4 L1061.8 1889.2 L1069.5 1889.0 L1077.3 1888.8 L1085.0 1888.6 L1092.7 1888.4 L1100.4 1888.2 L1108.1 1888.1 L1115.8 1887.9 L1123.5 1887.8 L1131.0 1887.6 L1138.3 1887.5 L1145.1 1887.4 L1151.2 1887.3 L1156.3 1887.2 L1166.0 1887.0" fill="none" stroke="#141414" stroke-width="5.5" stroke-linejoin="round"/>
<path d="M190.5 2373.7 L203.0 2373.4 L208.8 2373.2 L215.5 2373.0 L222.8 2372.9 L230.5 2372.7 L238.4 2372.4 L246.3 2372.2 L254.2 2372.0 L262.2 2371.8 L270.2 2371.6 L278.1 2371.4 L286.1 2371.1 L294.1 2370.9 L302.1 2370.7 L310.0 2370.4 L318.0 2370.2 L326.0 2369.9 L334.0 2369.7 L342.0 2369.5 L349.9 2369.4 L357.9 2369.3 L365.9 2369.4 L373.9 2369.6 L381.8 2369.8 L389.8 2370.2 L397.8 2370.5 L405.8 2370.9 L413.8 2371.3 L421.7 2371.6 L429.7 2371.9 L437.7 2372.2 L445.7 2372.5 L453.7 2372.7 L461.6 2372.8 L469.6 2373.0 L477.6 2373.1 L485.6 2373.2 L493.5 2373.3 L501.5 2373.3 L509.4 2373.2 L517.2 2373.1 L525.1 2372.9 L532.9 2372.6 L540.7 2372.2 L548.5 2371.6 L556.2 2370.9 L563.9 2370.1 L571.5 2369.0 L579.1 2367.8 L586.7 2366.5 L594.2 2365.0 L601.7 2363.5 L609.1 2361.8 L616.4 2360.1 L623.7 2358.1 L631.0 2355.9 L638.1 2353.4 L645.1 2350.5 L652.0 2347.2 L658.5 2343.4 L664.9 2339.3 L671.1 2334.7 L677.0 2329.8 L682.7 2324.7 L688.3 2319.3 L693.6 2313.7 L698.7 2307.9 L703.6 2302.0 L708.4 2296.0 L713.0 2289.8 L717.3 2283.6 L721.5 2277.3 L725.5 2271.0 L729.3 2264.5 L732.9 2257.9 L736.4 2251.2 L739.8 2244.5 L743.2 2237.6 L746.5 2230.7 L749.9 2223.9 L753.2 2217.0 L756.5 2210.2 L759.8 2203.4 L763.1 2196.7 L766.4 2190.0 L769.6 2183.3 L772.8 2176.6 L775.9 2170.0 L779.0 2163.3 L782.0 2156.6 L785.1 2149.9 L788.1 2143.3 L791.1 2136.6 L794.1 2130.0 L797.2 2123.3 L800.2 2116.6 L803.2 2110.0 L806.3 2103.3 L809.4 2096.5 L812.5 2089.8 L815.6 2082.9 L818.8 2076.0 L822.1 2068.9 L825.4 2061.9 L828.8 2054.8 L832.2 2047.7 L835.6 2040.7 L839.0 2033.8 L842.5 2026.9 L846.0 2020.1 L849.6 2013.4 L853.3 2006.8 L857.0 2000.2 L860.8 1993.7 L864.7 1987.3 L868.5 1980.9 L872.5 1974.6 L876.5 1968.3 L880.6 1962.0 L884.9 1955.7 L889.3 1949.4 L894.0 1943.3 L898.9 1937.4 L904.0 1931.7 L909.5 1926.4 L915.4 1921.4 L921.6 1916.8 L928.0 1912.6 L934.8 1908.9 L941.8 1905.7 L949.0 1902.9 L956.2 1900.5 L963.5 1898.5 L970.9 1896.9 L978.2 1895.5 L985.6 1894.4 L993.0 1893.4 L1000.4 1892.6 L1008.0 1891.8 L1015.6 1891.2 L1023.2 1890.6 L1030.9 1890.0 L1038.6 1889.5 L1046.4 1889.0 L1054.1 1888.5 L1061.8 1888.0 L1069.5 1887.5 L1077.3 1886.9 L1085.0 1886.4 L1092.7 1885.8 L1100.4 1885.2 L1108.1 1884.6 L1115.8 1884.0 L1123.5 1883.4 L1131.0 1882.8 L1138.3 1882.2 L1145.1 1881.7 L1151.2 1881.2 L1156.3 1880.8 L1166.0 1880.0" fill="none" stroke="#e3202b" stroke-width="5" stroke-linejoin="round"/>
<rect x="189.3" y="1831" width="978.7" height="723.6" fill="none" stroke="#000" stroke-width="6"/>
<line x1="188.4" y1="2554.6" x2="188.4" y2="2564.6" stroke="#000" stroke-width="5" stroke-linecap="butt"/>
<line x1="311" y1="2554.6" x2="311" y2="2571.1" stroke="#000" stroke-width="5" stroke-linecap="butt"/>
<line x1="433.6" y1="2554.6" x2="433.6" y2="2564.6" stroke="#000" stroke-width="5" stroke-linecap="butt"/>
<line x1="556.2" y1="2554.6" x2="556.2" y2="2571.1" stroke="#000" stroke-width="5" stroke-linecap="butt"/>
<line x1="678.8" y1="2554.6" x2="678.8" y2="2564.6" stroke="#000" stroke-width="5" stroke-linecap="butt"/>
<line x1="801.4" y1="2554.6" x2="801.4" y2="2571.1" stroke="#000" stroke-width="5" stroke-linecap="butt"/>
<line x1="924" y1="2554.6" x2="924" y2="2564.6" stroke="#000" stroke-width="5" stroke-linecap="butt"/>
<line x1="1046.6" y1="2554.6" x2="1046.6" y2="2571.1" stroke="#000" stroke-width="5" stroke-linecap="butt"/>
<line x1="1169.2" y1="2554.6" x2="1169.2" y2="2564.6" stroke="#000" stroke-width="5" stroke-linecap="butt"/>
<line x1="172.3" y1="2555" x2="189.3" y2="2555" stroke="#000" stroke-width="5" stroke-linecap="butt"/>
<line x1="179.3" y1="2499.2" x2="189.3" y2="2499.2" stroke="#000" stroke-width="5" stroke-linecap="butt"/>
<line x1="172.3" y1="2443.5" x2="189.3" y2="2443.5" stroke="#000" stroke-width="5" stroke-linecap="butt"/>
<line x1="179.3" y1="2387.8" x2="189.3" y2="2387.8" stroke="#000" stroke-width="5" stroke-linecap="butt"/>
<line x1="172.3" y1="2332" x2="189.3" y2="2332" stroke="#000" stroke-width="5" stroke-linecap="butt"/>
<line x1="179.3" y1="2276.2" x2="189.3" y2="2276.2" stroke="#000" stroke-width="5" stroke-linecap="butt"/>
<line x1="172.3" y1="2220.5" x2="189.3" y2="2220.5" stroke="#000" stroke-width="5" stroke-linecap="butt"/>
<line x1="179.3" y1="2164.8" x2="189.3" y2="2164.8" stroke="#000" stroke-width="5" stroke-linecap="butt"/>
<line x1="172.3" y1="2109" x2="189.3" y2="2109" stroke="#000" stroke-width="5" stroke-linecap="butt"/>
<line x1="179.3" y1="2053.2" x2="189.3" y2="2053.2" stroke="#000" stroke-width="5" stroke-linecap="butt"/>
<line x1="172.3" y1="1997.5" x2="189.3" y2="1997.5" stroke="#000" stroke-width="5" stroke-linecap="butt"/>
<line x1="179.3" y1="1941.8" x2="189.3" y2="1941.8" stroke="#000" stroke-width="5" stroke-linecap="butt"/>
<line x1="172.3" y1="1886" x2="189.3" y2="1886" stroke="#000" stroke-width="5" stroke-linecap="butt"/>
<line x1="179.3" y1="1830.2" x2="189.3" y2="1830.2" stroke="#000" stroke-width="5" stroke-linecap="butt"/>
<text x="118.3" y="2572.2" font-size="67" letter-spacing="-4.00">-6</text>
<text x="118.3" y="2460.7" font-size="67" letter-spacing="-4.00">-5</text>
<text x="118.3" y="2349.2" font-size="67" letter-spacing="-4.00">-4</text>
<text x="118.3" y="2237.7" font-size="67" letter-spacing="-4.00">-3</text>
<text x="118.3" y="2126.2" font-size="67" letter-spacing="-4.00">-2</text>
<text x="118.3" y="2014.7" font-size="67" letter-spacing="-4.00">-1</text>
<text x="136.6" y="1903.2" font-size="67" letter-spacing="-4.00">0</text>
<text x="274.4" y="2622.7" font-size="67" letter-spacing="-4.00">0.4</text>
<text x="520.1" y="2622.7" font-size="67" letter-spacing="-4.00">0.6</text>
<text x="765.5" y="2622.7" font-size="67" letter-spacing="-4.00">0.8</text>
<text x="1009" y="2622.7" font-size="67" letter-spacing="-4.00">1.0</text>
<line x1="204" y1="1982.6" x2="288.7" y2="1982.6" stroke="#141414" stroke-width="5" stroke-linecap="butt"/>
<line x1="204" y1="2076" x2="288.7" y2="2076" stroke="#e3202b" stroke-width="5" stroke-linecap="butt"/>
<line x1="204" y1="2170.8" x2="288.7" y2="2170.8" stroke="#6ab82e" stroke-width="5" stroke-linecap="butt"/>
<line x1="204" y1="2261.5" x2="288.7" y2="2261.5" stroke="#27509f" stroke-width="5" stroke-linecap="butt"/>
<text transform="translate(294.9 1997) scale(0.930 1)" font-size="71.4" letter-spacing="-1.72">CS</text>
<text transform="translate(369.8 2017.9) scale(0.930 1)" font-size="48.9" letter-spacing="-3.90">6-650</text>
<text transform="translate(300.3 2090.5) scale(0.930 1)" font-size="71.7" letter-spacing="-0.44">CS</text>
<text transform="translate(376 2111.3) scale(0.930 1)" font-size="48.9" letter-spacing="-4.00">12-650</text>
<text transform="translate(300.3 2183.9) scale(0.930 1)" font-size="71.6" letter-spacing="-0.27">CS</text>
<text transform="translate(376 2204.7) scale(0.930 1)" font-size="48.9" letter-spacing="-4.00">18-650</text>
<text transform="translate(300 2274.5) scale(0.930 1)" font-size="67.4" letter-spacing="-0.20">Pt/C</text>
<text transform="translate(204.3 1920.7) scale(1.043 1)" font-size="130.4" letter-spacing="0.00">e</text>
<text transform="translate(398.6 2683.8) scale(0.930 1)" font-size="63.6" letter-spacing="-0.48">Potential (V vs. RHE)</text>
<text transform="translate(68.1 1881.5) rotate(-90) scale(1.232 1)" font-size="59.3" letter-spacing="0.00">)</text>
<text transform="translate(50.7 1905.2) rotate(-90) scale(0.930 1)" font-size="38.1" letter-spacing="-3.37">-2</text>
<text transform="translate(67.6 2517.2) rotate(-90) scale(0.930 1)" font-size="60.7" letter-spacing="2.73">Current Density (mA cm</text>
<path d="M1476.3 1934C1510.4 1934.6 1612.7 1933.8 1680.8 1937.5C1749 1941.2 1817.2 1951.8 1885.4 1956.5C1953.6 1961.2 2021.8 1962.6 2089.9 1966C2158.1 1969.4 2260.4 1975.2 2294.5 1977" fill="none" stroke="#141414" stroke-width="5.5" stroke-linejoin="round" stroke-linecap="butt"/>
<path d="M1476.3 1945C1510.4 1948.2 1612.7 1956.9 1680.8 1964C1749 1971.1 1817.2 1980.4 1885.4 1987.4C1953.6 1994.4 2021.8 1999.7 2089.9 2006C2158.1 2012.3 2260.4 2022 2294.5 2025.2" fill="none" stroke="#6ab82e" stroke-width="5" stroke-linejoin="round" stroke-linecap="butt"/>
<path d="M1476.3 1930.8C1510.4 1931 1612.7 1931 1680.8 1932.3C1749 1933.6 1817.2 1936.8 1885.4 1938.8C1953.6 1940.8 2021.8 1942.2 2089.9 1944.6C2158.1 1946.9 2260.4 1951.5 2294.5 1952.9" fill="none" stroke="#e3202b" stroke-width="5" stroke-linejoin="round" stroke-linecap="butt"/>
<rect x="1396" y="1832.8" width="1001" height="740" fill="none" stroke="#000" stroke-width="6"/>
<line x1="1476.3" y1="2572.8" x2="1476.3" y2="2589.3" stroke="#000" stroke-width="5" stroke-linecap="butt"/>
<line x1="1578.6" y1="2572.8" x2="1578.6" y2="2582.8" stroke="#000" stroke-width="5" stroke-linecap="butt"/>
<line x1="1680.8" y1="2572.8" x2="1680.8" y2="2589.3" stroke="#000" stroke-width="5" stroke-linecap="butt"/>
<line x1="1783.1" y1="2572.8" x2="1783.1" y2="2582.8" stroke="#000" stroke-width="5" stroke-linecap="butt"/>
<line x1="1885.4" y1="2572.8" x2="1885.4" y2="2589.3" stroke="#000" stroke-width="5" stroke-linecap="butt"/>
<line x1="1987.7" y1="2572.8" x2="1987.7" y2="2582.8" stroke="#000" stroke-width="5" stroke-linecap="butt"/>
<line x1="2089.9" y1="2572.8" x2="2089.9" y2="2589.3" stroke="#000" stroke-width="5" stroke-linecap="butt"/>
<line x1="2192.2" y1="2572.8" x2="2192.2" y2="2582.8" stroke="#000" stroke-width="5" stroke-linecap="butt"/>
<line x1="2294.5" y1="2572.8" x2="2294.5" y2="2589.3" stroke="#000" stroke-width="5" stroke-linecap="butt"/>
<line x1="2396.8" y1="2572.8" x2="2396.8" y2="2582.8" stroke="#000" stroke-width="5" stroke-linecap="butt"/>
<line x1="1379" y1="2572" x2="1396" y2="2572" stroke="#000" stroke-width="5" stroke-linecap="butt"/>
<line x1="1386" y1="2491.7" x2="1396" y2="2491.7" stroke="#000" stroke-width="5" stroke-linecap="butt"/>
<line x1="1379" y1="2411.4" x2="1396" y2="2411.4" stroke="#000" stroke-width="5" stroke-linecap="butt"/>
<line x1="1386" y1="2331.1" x2="1396" y2="2331.1" stroke="#000" stroke-width="5" stroke-linecap="butt"/>
<line x1="1379" y1="2250.8" x2="1396" y2="2250.8" stroke="#000" stroke-width="5" stroke-linecap="butt"/>
<line x1="1386" y1="2170.5" x2="1396" y2="2170.5" stroke="#000" stroke-width="5" stroke-linecap="butt"/>
<line x1="1379" y1="2090.2" x2="1396" y2="2090.2" stroke="#000" stroke-width="5" stroke-linecap="butt"/>
<line x1="1386" y1="2009.9" x2="1396" y2="2009.9" stroke="#000" stroke-width="5" stroke-linecap="butt"/>
<line x1="1379" y1="1929.6" x2="1396" y2="1929.6" stroke="#000" stroke-width="5" stroke-linecap="butt"/>
<line x1="1386" y1="1849.3" x2="1396" y2="1849.3" stroke="#000" stroke-width="5" stroke-linecap="butt"/>
<text x="1340.1" y="2588.5" font-size="67" letter-spacing="-4.00">0</text>
<text x="1340.1" y="2427.9" font-size="67" letter-spacing="-4.00">1</text>
<text x="1340.1" y="2267.3" font-size="67" letter-spacing="-4.00">2</text>
<text x="1340.1" y="2106.7" font-size="67" letter-spacing="-4.00">3</text>
<text x="1340.1" y="1946.1" font-size="67" letter-spacing="-4.00">4</text>
<text x="1426" y="2643.4" font-size="67" letter-spacing="-4.00">0.30</text>
<text x="1630.6" y="2643.4" font-size="67" letter-spacing="-4.00">0.35</text>
<text x="1835.1" y="2643.4" font-size="67" letter-spacing="-4.00">0.40</text>
<text x="2039.7" y="2643.4" font-size="67" letter-spacing="-4.00">0.45</text>
<text x="2244.2" y="2643.4" font-size="67" letter-spacing="-4.00">0.50</text>
<line x1="2056.7" y1="2131.9" x2="2143.7" y2="2131.9" stroke="#141414" stroke-width="5" stroke-linecap="butt"/>
<line x1="2056.7" y1="2231.2" x2="2143.7" y2="2231.2" stroke="#e3202b" stroke-width="5" stroke-linecap="butt"/>
<line x1="2056.7" y1="2329.7" x2="2143.7" y2="2329.7" stroke="#6ab82e" stroke-width="5" stroke-linecap="butt"/>
<text transform="translate(2158.5 2145.2) scale(0.930 1)" font-size="73.2" letter-spacing="-1.68">CS</text>
<text transform="translate(2235 2169.2) scale(0.930 1)" font-size="47" letter-spacing="-2.33">6-650</text>
<text transform="translate(2156.9 2243.7) scale(0.930 1)" font-size="72" letter-spacing="-0.34">CS</text>
<text transform="translate(2234 2268.5) scale(0.930 1)" font-size="46.8" letter-spacing="-2.66">12-650</text>
<text transform="translate(2156.9 2342.2) scale(0.930 1)" font-size="72" letter-spacing="-0.34">CS</text>
<text transform="translate(2234 2367) scale(0.930 1)" font-size="47" letter-spacing="-2.74">18-650</text>
<text transform="translate(1414.2 1945) scale(1.335 1)" font-size="128.7" letter-spacing="0.00">f</text>
<text transform="translate(1662.9 2721.9) scale(0.930 1)" font-size="60.5" letter-spacing="1.46">Potential (V vs. RHE)</text>
<text transform="translate(1305.5 2435.9) rotate(-90) scale(0.930 1)" font-size="69.6" letter-spacing="-5.04">Electron transfer number</text>
</svg>
</body></html>
